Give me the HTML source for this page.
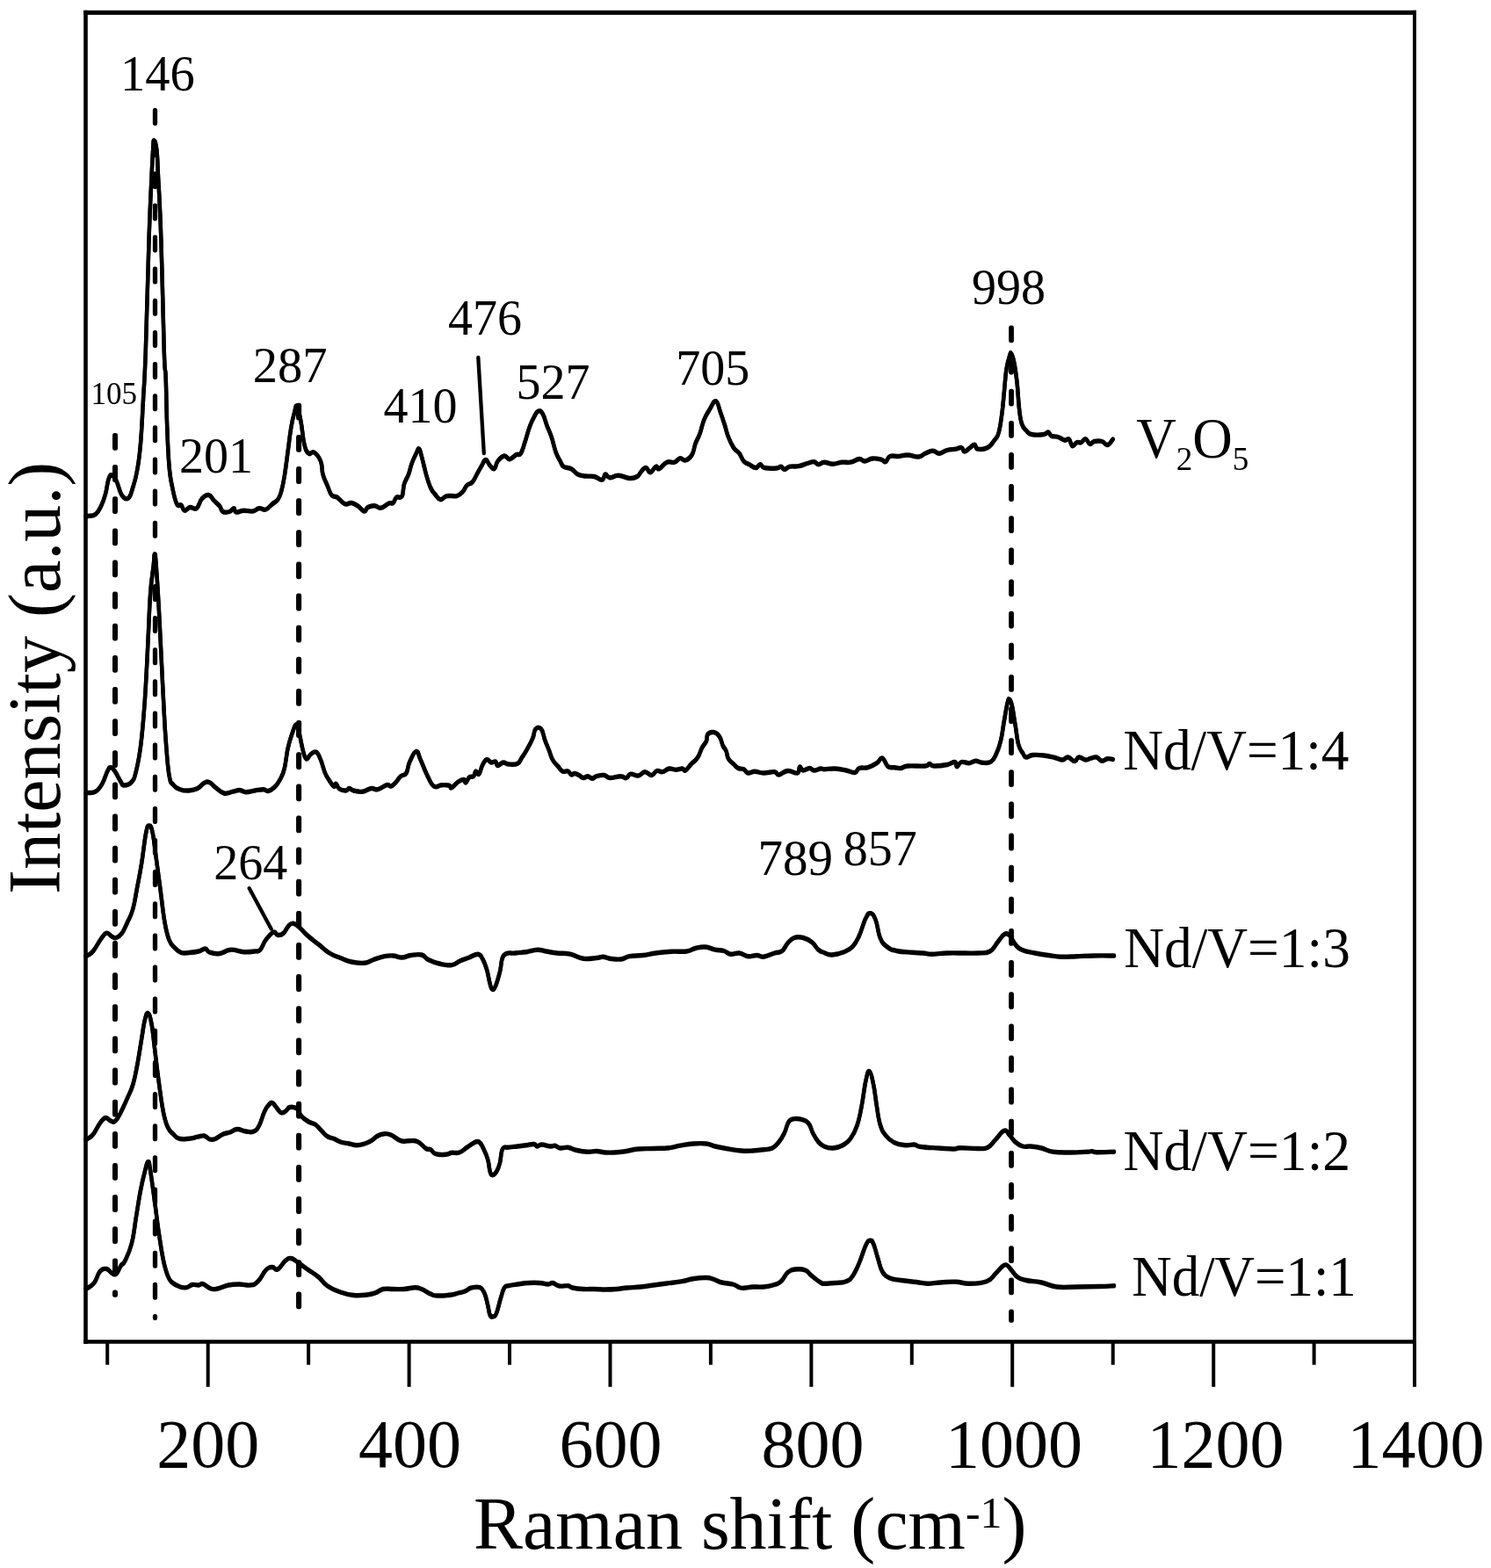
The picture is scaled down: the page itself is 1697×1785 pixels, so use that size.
<!DOCTYPE html>
<html lang="en"><head><meta charset="utf-8"><title>Raman spectra</title>
<style>html,body{margin:0;padding:0;background:#fff}svg{display:block}</style></head>
<body>
<svg width="1697" height="1785" viewBox="0 0 1697 1785">
<rect width="1697" height="1785" fill="#fff"/>
<g transform="translate(0,-0.5)" fill="none" stroke="#000" stroke-width="4.4" stroke-linejoin="round" stroke-linecap="round">
<path d="M97.5,588.0C98.0,587.9 97.5,588.0 100.0,587.5C102.5,587.0 105.4,588.0 108.7,585.5C112.0,583.0 112.5,581.3 115.0,576.2C117.5,571.1 118.1,569.4 120.0,562.5C121.9,555.6 122.0,549.7 123.7,545.0C125.4,540.3 125.6,540.5 127.5,541.0C129.4,541.5 130.0,542.5 132.5,547.5C135.0,552.5 135.7,559.4 138.7,563.7C141.7,568.0 143.4,568.9 146.2,567.0C148.9,565.1 149.0,562.0 151.2,555.0C153.4,548.0 154.3,546.0 156.2,535.0C158.1,524.0 158.5,522.6 160.0,505.0C161.5,487.4 161.7,478.1 163.0,455.0C164.3,431.9 164.3,440.5 165.8,400.0C167.3,359.5 168.1,315.4 169.6,271.0C171.1,226.6 171.7,220.2 172.7,198.0C173.7,175.8 173.6,178.4 174.2,170.0C174.8,161.6 174.3,159.6 175.2,159.6C176.1,159.6 177.3,161.6 178.3,170.0C179.3,178.4 178.8,175.8 179.9,198.0C181.0,220.2 181.8,226.6 183.3,271.0C184.8,315.4 185.6,365.0 186.8,400.0C188.0,435.0 188.0,412.4 188.7,430.0C189.4,447.6 189.2,458.0 190.0,480.0C190.8,502.0 191.1,513.5 192.5,530.0C193.9,546.5 194.3,545.4 196.2,555.0C198.1,564.6 199.0,569.3 201.2,573.7C203.4,578.1 204.3,573.4 206.2,575.0C208.1,576.6 207.8,580.7 210.0,581.2C212.2,581.8 213.2,578.0 216.2,577.5C219.2,577.0 220.7,580.9 223.7,578.7C226.7,576.5 227.0,570.8 230.0,567.5C233.0,564.2 234.5,563.0 237.5,563.5C240.5,564.0 240.9,567.2 243.7,570.0C246.4,572.8 247.8,573.5 250.0,576.2C252.2,579.0 251.2,581.1 253.7,582.5C256.2,583.9 258.4,583.3 261.2,582.5C263.9,581.7 264.6,578.6 266.2,578.7C267.8,578.8 266.2,582.5 268.7,583.0C271.2,583.5 273.4,581.4 277.5,581.2C281.6,581.0 283.6,582.5 287.5,582.0C291.4,581.5 291.7,579.1 295.0,578.7C298.3,578.3 299.2,581.1 302.5,580.0C305.8,578.9 307.0,576.2 310.0,573.7C313.0,571.2 314.0,571.7 316.2,568.7C318.4,565.7 318.4,565.8 320.0,560.0C321.6,554.2 322.1,552.4 323.7,542.5C325.3,532.6 325.9,527.1 327.5,515.0C329.1,502.9 329.6,497.4 331.2,487.5C332.8,477.6 333.5,475.5 335.0,470.0C336.5,464.5 336.4,460.3 338.0,462.5C339.6,464.7 340.7,470.6 342.5,480.0C344.3,489.4 344.3,497.0 346.2,505.0C348.1,513.0 348.7,514.0 351.2,516.2C353.7,518.4 354.5,513.1 357.5,515.0C360.5,516.9 362.8,519.5 365.0,525.0C367.2,530.5 365.9,534.0 367.5,540.0C369.1,546.0 370.3,547.3 372.5,552.5C374.7,557.7 375.0,560.7 377.5,563.7C380.0,566.7 380.4,564.0 383.7,566.2C387.0,568.4 388.9,572.3 392.5,573.7C396.1,575.1 396.7,572.0 400.0,572.5C403.3,573.0 404.3,574.1 407.5,576.2C410.7,578.3 412.0,581.7 414.5,582.0C417.0,582.3 416.1,578.9 418.7,577.5C421.3,576.1 422.9,575.5 426.2,575.7C429.5,575.9 430.1,578.8 433.7,578.2C437.3,577.6 439.5,574.3 442.5,573.0C445.5,571.7 445.6,574.0 447.5,572.5C449.4,571.0 449.0,567.9 451.2,566.2C453.4,564.6 455.6,568.3 457.5,565.0C459.4,561.7 458.4,556.7 460.0,551.2C461.6,545.7 463.1,545.2 465.0,540.0C466.9,534.8 466.8,532.7 468.7,527.5C470.6,522.3 471.9,519.8 473.7,516.2C475.5,512.6 475.6,510.2 477.0,511.0C478.4,511.8 478.2,513.6 480.0,520.0C481.8,526.4 482.8,532.3 485.0,540.0C487.2,547.7 487.8,550.0 490.0,555.0C492.2,560.0 492.5,559.5 495.0,562.5C497.5,565.5 498.4,568.2 501.2,568.7C503.9,569.2 504.7,565.9 507.5,565.0C510.3,564.1 511.2,564.6 514.0,564.5C516.8,564.4 517.5,565.5 520.2,564.5C523.0,563.5 524.0,562.6 526.5,560.0C529.0,557.4 529.0,555.0 531.5,552.5C534.0,550.0 535.2,551.5 537.7,548.7C540.2,546.0 540.5,543.9 542.7,540.0C544.9,536.1 545.5,534.8 547.7,531.2C549.9,527.6 550.5,523.8 552.7,523.5C554.9,523.2 555.5,527.8 557.7,530.0C559.9,532.2 560.8,534.8 562.7,533.7C564.6,532.6 564.0,528.2 566.5,525.0C569.0,521.8 571.0,519.5 574.0,519.0C577.0,518.5 577.2,523.0 580.2,522.7C583.2,522.4 585.0,518.9 587.7,517.5C590.5,516.1 590.5,519.5 592.7,516.2C594.9,512.9 595.5,509.1 597.7,502.5C599.9,495.9 600.5,492.2 602.7,486.2C604.9,480.1 605.5,479.0 607.7,475.0C609.9,471.0 610.5,468.8 612.7,468.0C614.9,467.2 615.5,467.5 617.7,471.2C619.9,474.9 620.5,479.2 622.7,485.0C624.9,490.8 625.5,490.9 627.7,497.5C629.9,504.1 630.5,508.9 632.7,515.0C634.9,521.0 635.8,521.4 637.7,525.0C639.6,528.6 638.8,529.3 641.5,531.2C644.2,533.1 646.6,531.8 650.2,533.7C653.8,535.6 654.1,538.2 657.7,540.0C661.3,541.8 662.4,541.5 666.5,542.0C670.6,542.5 672.4,541.6 676.5,542.5C680.6,543.4 682.5,546.8 685.2,546.2C688.0,545.7 687.1,540.5 689.0,540.0C690.9,539.5 690.7,543.4 694.0,543.7C697.3,544.0 699.0,541.0 704.0,541.2C709.0,541.4 711.8,544.2 716.5,544.5C721.2,544.8 722.2,544.3 725.2,542.5C728.2,540.7 728.0,538.4 730.2,536.2C732.4,534.0 733.0,532.2 735.2,532.5C737.4,532.8 737.7,538.0 740.2,537.7C742.7,537.4 744.3,532.1 746.5,531.2C748.7,530.3 747.5,534.8 750.2,533.7C753.0,532.6 755.1,527.9 759.0,526.2C762.9,524.6 764.4,527.2 767.7,526.2C771.0,525.2 771.2,522.2 774.0,521.7C776.8,521.2 777.2,524.9 780.2,524.0C783.2,523.1 785.2,521.7 787.7,517.5C790.2,513.3 789.6,510.2 791.5,505.0C793.4,499.8 794.3,499.8 796.5,493.7C798.7,487.6 799.0,483.6 801.5,477.5C804.0,471.4 804.8,470.8 807.7,466.2C810.6,461.6 812.0,455.9 814.7,456.7C817.5,457.5 817.9,463.8 820.2,470.0C822.5,476.2 823.3,478.9 825.2,485.0C827.1,491.1 826.8,492.0 829.0,497.5C831.2,503.0 832.5,505.9 835.2,510.0C838.0,514.1 839.0,512.9 841.5,516.2C844.0,519.5 844.0,522.2 846.5,525.0C849.0,527.8 849.7,527.1 852.7,528.7C855.7,530.4 857.5,532.5 860.2,532.5C863.0,532.5 863.0,528.7 865.2,528.7C867.4,528.7 866.1,531.6 870.2,532.5C874.3,533.4 879.9,533.3 884.0,533.0C888.1,532.7 887.1,530.9 889.0,531.2C890.9,531.5 890.5,534.5 892.7,534.5C894.9,534.5 895.4,532.0 899.0,531.2C902.6,530.4 904.6,531.5 909.0,530.7C913.4,529.9 915.1,528.6 919.0,527.5C922.9,526.4 923.8,525.4 926.5,525.7C929.2,526.0 929.0,528.6 931.5,528.7C934.0,528.8 934.4,526.3 938.0,526.2C941.6,526.1 943.6,528.2 948.0,528.2C952.4,528.2 953.6,526.6 958.0,526.2C962.4,525.8 963.6,527.0 968.0,526.2C972.4,525.4 974.4,522.8 978.0,522.5C981.6,522.2 980.9,525.1 984.2,525.0C987.5,524.9 988.9,522.4 993.0,522.0C997.1,521.6 999.7,522.4 1003.0,523.2C1006.3,524.0 1005.8,526.5 1008.0,525.7C1010.2,524.9 1009.7,520.9 1013.0,519.5C1016.3,518.1 1018.6,519.8 1023.0,519.5C1027.4,519.2 1028.0,517.9 1033.0,518.0C1038.0,518.1 1041.1,520.4 1045.5,520.0C1049.9,519.6 1049.4,517.7 1053.0,516.2C1056.6,514.7 1058.1,513.2 1061.7,513.2C1065.3,513.2 1065.6,516.4 1069.2,516.2C1072.8,516.0 1073.9,513.6 1078.0,512.5C1082.1,511.4 1084.4,511.9 1088.0,511.2C1091.6,510.5 1092.0,508.9 1094.2,509.5C1096.4,510.1 1095.8,514.0 1098.0,514.0C1100.2,514.0 1101.7,511.2 1104.2,509.5C1106.7,507.8 1107.3,505.8 1109.2,506.2C1111.1,506.6 1109.7,510.5 1113.0,511.2C1116.3,511.9 1120.1,511.7 1124.2,509.5C1128.3,507.3 1129.0,504.9 1131.7,501.2C1134.5,497.5 1134.8,499.4 1136.7,492.5C1138.6,485.6 1139.1,480.4 1140.5,470.0C1141.9,459.6 1141.9,456.0 1143.0,445.0C1144.1,434.0 1144.1,428.8 1145.5,420.0C1146.9,411.2 1148.0,408.9 1149.2,405.0C1150.4,401.1 1149.9,400.9 1151.0,402.5C1152.1,404.1 1152.8,405.4 1154.2,412.5C1155.6,419.6 1156.2,423.4 1157.5,435.0C1158.8,446.6 1158.8,454.6 1160.0,465.0C1161.2,475.4 1161.2,477.0 1163.0,482.5C1164.8,488.0 1165.5,487.4 1168.0,490.0C1170.5,492.6 1169.8,493.5 1174.2,494.5C1178.6,495.5 1183.9,495.1 1188.0,494.5C1192.1,493.9 1191.1,491.6 1193.0,492.0C1194.9,492.4 1194.2,495.0 1196.7,496.2C1199.2,497.4 1200.9,496.4 1204.2,497.5C1207.5,498.6 1209.0,500.6 1211.7,501.2C1214.5,501.8 1214.8,498.6 1216.7,500.0C1218.6,501.4 1218.6,506.9 1220.5,507.7C1222.4,508.5 1223.3,504.6 1225.5,503.7C1227.7,502.8 1228.3,504.6 1230.5,503.7C1232.7,502.8 1233.3,499.3 1235.5,499.7C1237.7,500.1 1238.3,504.9 1240.5,505.5C1242.7,506.1 1242.5,503.2 1245.5,502.5C1248.5,501.8 1250.9,501.6 1254.2,502.5C1257.5,503.4 1257.8,507.1 1260.5,506.5C1263.2,505.9 1265.3,501.4 1266.7,500.0"/>
<path d="M97.5,902.5C98.0,902.5 97.5,902.8 100.0,902.5C102.5,902.2 105.1,903.4 108.7,901.2C112.3,899.0 113.2,897.7 116.2,892.5C119.2,887.3 120.3,881.6 122.5,877.5C124.7,873.4 124.3,873.4 126.2,873.7C128.1,874.0 128.7,875.1 131.2,878.7C133.7,882.3 135.3,886.6 137.5,890.0C139.7,893.4 138.4,894.0 141.2,894.0C143.9,894.0 147.0,893.6 150.0,890.0C153.0,886.4 152.8,886.3 155.0,877.5C157.2,868.7 158.1,864.3 160.0,850.0C161.9,835.7 162.3,829.0 163.7,812.5C165.1,796.0 165.1,794.2 166.2,775.0C167.3,755.8 167.6,747.0 168.7,725.0C169.8,703.0 169.9,692.6 171.2,675.0C172.5,657.4 173.5,654.6 174.6,645.0C175.7,635.4 175.4,629.0 176.3,631.2C177.2,633.4 177.4,639.9 178.5,655.0C179.6,670.1 180.1,679.1 181.2,700.0C182.3,720.9 182.6,728.0 183.7,750.0C184.8,772.0 185.1,779.6 186.2,800.0C187.3,820.4 187.3,824.4 188.7,842.5C190.1,860.6 190.6,871.2 192.5,882.5C194.4,893.8 194.8,890.1 197.5,893.7C200.2,897.3 201.2,897.3 205.0,898.7C208.8,900.1 210.6,900.3 215.0,900.0C219.4,899.7 221.2,899.4 225.0,897.5C228.8,895.6 229.5,892.7 232.5,891.2C235.5,889.7 235.9,889.6 238.7,890.7C241.4,891.8 241.4,893.5 245.0,896.2C248.6,898.9 250.6,901.9 255.0,903.0C259.4,904.1 261.1,902.0 265.0,901.2C268.9,900.4 269.2,899.4 272.5,899.5C275.8,899.6 276.1,901.6 280.0,901.7C283.9,901.8 285.6,900.7 290.0,900.0C294.4,899.3 296.7,898.6 300.0,898.7C303.3,898.8 302.2,901.0 305.0,900.5C307.8,900.0 309.5,899.1 312.5,896.2C315.5,893.3 316.2,892.2 318.7,887.5C321.2,882.8 321.8,882.7 323.7,875.0C325.6,867.3 325.6,861.3 327.5,852.5C329.4,843.7 330.3,841.1 332.5,835.0C334.7,828.9 335.6,824.2 337.5,824.7C339.4,825.2 339.6,830.8 341.2,837.5C342.8,844.2 343.4,849.2 345.0,855.0C346.6,860.8 346.8,863.2 348.7,864.0C350.6,864.8 351.2,860.4 353.7,858.7C356.2,857.0 357.5,854.8 360.0,856.2C362.5,857.6 362.8,859.8 365.0,865.0C367.2,870.2 367.8,874.8 370.0,880.0C372.2,885.2 372.8,885.4 375.0,888.7C377.2,892.0 378.4,894.4 380.0,895.2C381.6,896.0 381.1,891.6 382.5,892.2C383.9,892.8 383.7,896.3 386.2,898.0C388.7,899.7 391.2,900.1 393.7,900.0C396.2,899.9 395.6,897.5 397.5,897.5C399.4,897.5 399.2,899.2 402.5,900.0C405.8,900.8 408.1,901.8 412.5,901.2C416.9,900.7 418.6,898.0 422.5,897.5C426.4,897.0 426.1,899.5 430.0,898.7C433.9,897.9 436.7,894.5 440.0,893.7C443.3,892.9 442.8,895.5 445.0,895.0C447.2,894.5 447.5,893.7 450.0,891.2C452.5,888.7 453.4,886.2 456.2,883.7C458.9,881.2 460.3,883.6 462.5,880.0C464.7,876.4 463.7,872.9 466.2,867.5C468.7,862.1 470.9,856.0 473.7,855.5C476.4,855.0 475.9,859.1 478.7,865.0C481.4,870.9 482.9,875.9 486.2,882.5C489.5,889.1 490.1,892.5 493.7,895.0C497.3,897.5 498.6,893.9 502.5,893.7C506.4,893.5 508.7,893.5 511.2,894.2C513.7,894.9 511.7,897.7 514.0,896.8C516.3,895.9 518.5,892.0 521.5,890.0C524.5,888.0 525.8,887.3 527.7,887.5C529.6,887.7 528.8,891.5 530.2,891.0C531.6,890.5 532.1,886.6 534.0,885.0C535.9,883.4 537.4,885.2 539.0,883.7C540.6,882.2 540.1,878.5 541.5,878.0C542.9,877.5 543.6,882.7 545.2,881.2C546.9,879.7 547.1,874.8 549.0,871.2C550.9,867.6 551.8,865.4 554.0,864.7C556.2,864.0 556.8,867.5 559.0,868.0C561.2,868.5 562.4,866.2 564.0,867.0C565.6,867.8 564.6,871.3 566.5,871.5C568.4,871.7 570.0,868.3 572.7,868.0C575.5,867.7 575.4,869.7 579.0,870.0C582.6,870.3 585.7,870.9 589.0,869.2C592.3,867.6 591.5,866.2 594.0,862.5C596.5,858.8 597.5,857.5 600.2,852.5C603.0,847.5 604.5,845.0 606.5,840.0C608.5,835.0 607.4,832.2 609.5,830.0C611.6,827.8 613.6,827.2 616.0,830.0C618.4,832.8 618.2,837.0 620.2,842.5C622.2,848.0 623.3,850.0 625.2,855.0C627.1,860.0 626.8,861.1 629.0,865.0C631.2,868.9 632.7,869.6 635.2,872.5C637.7,875.4 637.7,876.8 640.2,878.0C642.7,879.2 644.3,877.1 646.5,878.0C648.7,878.9 648.6,881.5 650.2,882.0C651.9,882.5 652.1,880.4 654.0,880.5C655.9,880.6 656.8,881.4 659.0,882.5C661.2,883.6 661.8,885.2 664.0,885.5C666.2,885.8 666.8,883.5 669.0,883.7C671.2,883.9 671.8,886.2 674.0,886.2C676.2,886.2 676.0,884.5 679.0,883.7C682.0,882.9 684.4,882.1 687.7,882.5C691.0,882.9 689.9,885.2 694.0,885.5C698.1,885.8 702.4,883.7 706.5,883.7C710.6,883.7 710.2,886.2 712.7,885.7C715.2,885.2 714.7,881.8 717.7,881.2C720.7,880.6 722.9,883.5 726.5,883.0C730.1,882.5 730.7,878.8 734.0,878.7C737.3,878.6 738.5,882.8 741.5,882.5C744.5,882.2 745.0,878.3 747.7,877.5C750.5,876.7 751.0,879.2 754.0,878.7C757.0,878.2 758.2,875.5 761.5,875.0C764.8,874.5 765.7,876.2 769.0,876.2C772.3,876.2 774.0,874.8 776.5,875.0C779.0,875.2 778.0,878.1 780.2,877.0C782.4,875.9 783.5,873.2 786.5,870.0C789.5,866.8 791.2,866.6 794.0,862.5C796.8,858.4 796.8,855.3 799.0,851.2C801.2,847.1 802.6,847.0 804.0,843.7C805.2,840.4 804.0,838.4 805.2,836.2C807.1,834.0 809.7,833.2 812.7,833.7C815.7,834.2 816.8,835.4 819.0,838.7C821.2,842.0 821.1,845.1 822.7,848.7C824.4,852.3 825.1,851.7 826.5,855.0C827.9,858.3 827.1,860.4 829.0,863.7C830.9,867.0 832.7,867.6 835.2,870.0C837.7,872.4 837.7,873.2 840.2,874.5C842.7,875.8 844.0,874.5 846.5,875.7C849.0,876.9 848.8,879.5 851.5,880.0C854.2,880.5 855.1,878.2 859.0,878.2C862.9,878.2 864.0,879.9 869.0,880.0C874.0,880.1 877.6,878.3 881.5,878.7C885.4,879.1 883.2,882.3 886.5,882.0C889.8,881.7 891.8,877.9 896.5,877.5C901.2,877.1 904.7,881.0 907.7,880.0C910.2,879.0 908.8,873.7 910.2,873.0C911.6,872.3 911.5,876.7 914.0,877.0C916.5,877.3 918.8,874.5 921.5,874.5C924.2,874.5 923.8,876.9 926.5,877.0C929.2,877.1 931.5,875.3 934.0,875.0C936.5,874.7 934.4,875.7 938.0,875.7C941.6,875.7 945.0,874.7 950.5,875.0C956.0,875.3 958.0,876.0 963.0,877.0C968.0,878.0 969.7,880.0 973.0,879.5C976.3,879.0 974.7,875.8 978.0,874.5C981.3,873.2 983.6,875.0 988.0,873.7C992.4,872.4 994.4,871.1 998.0,868.7C1001.6,866.3 1001.5,862.2 1004.2,863.0C1007.0,863.8 1007.5,870.1 1010.5,872.5C1013.5,874.9 1014.7,873.3 1018.0,873.7C1021.3,874.1 1022.2,874.9 1025.5,874.5C1028.8,874.1 1027.0,872.5 1033.0,872.0C1039.0,871.5 1047.5,872.5 1053.0,872.0C1058.0,871.5 1055.8,869.5 1058.0,869.5C1060.2,869.5 1058.6,871.8 1063.0,872.0C1067.4,872.2 1072.8,871.5 1078.0,870.5C1083.2,869.5 1084.2,867.0 1086.7,867.5C1089.2,868.0 1087.5,872.7 1089.2,872.7C1090.9,872.7 1091.2,868.4 1094.2,867.5C1097.2,866.6 1099.4,869.0 1103.0,868.7C1106.6,868.4 1107.2,866.3 1110.5,866.2C1113.8,866.1 1114.2,868.0 1118.0,868.2C1121.8,868.4 1124.4,869.4 1128.0,867.0C1131.6,864.6 1131.7,862.9 1134.2,857.5C1136.7,852.1 1137.3,850.8 1139.2,842.5C1141.1,834.2 1141.3,829.4 1143.0,820.0C1144.7,810.6 1145.4,805.2 1146.7,800.0C1148.0,794.8 1147.6,795.7 1148.7,796.2C1149.8,796.8 1150.2,796.2 1151.7,802.5C1153.2,808.8 1153.8,815.1 1155.5,825.0C1157.2,834.9 1157.3,840.4 1159.2,847.5C1161.1,854.6 1162.3,854.3 1164.2,857.5C1166.1,860.7 1165.5,861.6 1168.0,862.0C1170.5,862.4 1171.1,859.9 1175.5,859.5C1179.9,859.1 1182.5,859.3 1188.0,860.0C1193.5,860.7 1195.8,861.4 1200.5,862.5C1205.2,863.6 1205.9,865.1 1209.2,865.0C1212.5,864.9 1212.5,861.7 1215.5,862.0C1218.5,862.3 1220.2,866.5 1223.0,866.5C1225.8,866.5 1225.2,862.3 1228.0,862.0C1230.8,861.7 1232.5,864.7 1235.5,865.0C1238.5,865.3 1239.0,863.9 1241.7,863.2C1244.5,862.5 1245.2,861.3 1248.0,862.0C1250.8,862.7 1251.5,865.8 1254.2,866.2C1257.0,866.6 1257.8,864.1 1260.5,863.7C1263.2,863.3 1265.3,864.3 1266.7,864.5"/>
<path d="M97.5,1088.5C98.0,1088.3 98.1,1088.8 100.0,1087.5C101.9,1086.2 102.9,1086.6 106.2,1082.5C109.5,1078.4 111.7,1073.2 115.0,1068.7C118.3,1064.2 118.5,1062.8 121.2,1062.2C124.0,1061.7 125.0,1065.0 127.5,1066.2C130.0,1067.4 130.0,1068.3 132.5,1067.5C135.0,1066.7 135.9,1066.3 138.7,1062.5C141.4,1058.7 142.2,1056.0 145.0,1050.0C147.8,1044.0 148.7,1043.8 151.2,1035.0C153.7,1026.2 154.0,1021.5 156.2,1010.0C158.4,998.5 159.0,996.1 161.2,982.5C163.4,968.9 164.3,957.4 166.2,948.0C168.1,938.6 168.3,940.0 170.0,940.0C171.7,940.0 172.0,940.3 173.7,948.0C175.3,955.7 175.6,960.8 177.5,975.0C179.4,989.2 180.3,996.0 182.5,1012.5C184.7,1029.0 185.3,1037.3 187.5,1050.0C189.7,1062.7 190.0,1063.7 192.5,1070.0C195.0,1076.3 195.7,1075.5 198.7,1078.7C201.7,1081.9 202.6,1083.2 206.2,1084.5C209.8,1085.8 210.6,1084.8 215.0,1084.5C219.4,1084.2 222.1,1084.0 226.2,1083.0C230.3,1082.0 230.9,1079.7 233.7,1080.0C236.4,1080.3 235.1,1083.0 238.7,1084.2C242.3,1085.4 244.8,1086.2 250.0,1085.5C255.2,1084.8 256.4,1081.6 262.5,1081.2C268.6,1080.8 271.4,1083.3 277.5,1083.7C283.6,1084.1 285.9,1083.5 290.0,1083.0C294.1,1082.5 293.4,1084.1 296.2,1081.2C298.9,1078.3 299.2,1074.4 302.5,1070.0C305.8,1065.6 308.2,1062.4 311.2,1061.2C314.2,1060.0 313.7,1064.2 316.2,1064.5C318.7,1064.8 319.8,1064.9 322.5,1062.5C325.2,1060.1 326.2,1056.2 328.7,1053.7C331.2,1051.2 331.2,1050.9 333.7,1051.2C336.2,1051.5 336.4,1052.0 340.0,1055.0C343.6,1058.0 345.1,1060.6 350.0,1065.0C354.9,1069.4 357.0,1070.6 362.5,1075.0C368.0,1079.4 369.5,1081.6 375.0,1085.0C380.5,1088.4 382.0,1088.3 387.5,1090.5C393.0,1092.7 393.9,1093.7 400.0,1095.0C406.1,1096.3 409.5,1096.8 415.0,1096.2C420.5,1095.7 420.1,1094.2 425.0,1092.5C429.9,1090.8 432.6,1089.7 437.5,1088.7C442.4,1087.7 443.1,1087.7 447.5,1088.0C451.9,1088.3 453.1,1090.1 457.5,1090.0C461.9,1089.9 462.6,1088.2 467.5,1087.5C472.4,1086.8 475.6,1085.9 480.0,1087.0C484.4,1088.1 483.1,1090.3 487.5,1092.5C491.9,1094.7 494.2,1095.7 500.0,1097.0C505.8,1098.3 508.7,1099.3 514.0,1098.6C519.3,1097.9 519.6,1095.6 524.0,1093.7C528.4,1091.8 529.6,1091.7 534.0,1090.0C538.4,1088.3 540.7,1085.9 544.0,1086.2C547.3,1086.5 546.8,1087.4 549.0,1091.2C551.2,1095.0 552.1,1097.4 554.0,1103.7C555.9,1110.0 556.3,1115.0 557.7,1120.0C559.1,1125.0 558.8,1125.7 560.2,1126.2C561.6,1126.8 562.1,1126.9 564.0,1122.5C565.9,1118.1 566.9,1113.9 569.0,1106.2C571.1,1098.5 569.6,1092.2 573.5,1087.5C577.4,1082.8 580.9,1085.8 586.5,1085.0C592.1,1084.2 593.5,1084.5 599.0,1083.7C604.5,1082.9 606.5,1081.4 611.5,1081.2C616.5,1081.0 616.5,1082.2 621.5,1083.0C626.5,1083.8 628.0,1084.3 634.0,1085.0C640.0,1085.7 642.4,1084.8 649.0,1086.2C655.6,1087.6 657.4,1090.3 664.0,1091.2C670.6,1092.1 674.0,1090.9 679.0,1090.5C684.0,1090.1 683.2,1089.0 686.5,1089.2C689.8,1089.4 689.6,1090.6 694.0,1091.2C698.4,1091.8 701.5,1092.5 706.5,1092.0C711.5,1091.5 711.0,1089.7 716.5,1088.7C722.0,1087.7 724.9,1088.3 731.5,1087.5C738.1,1086.7 739.4,1085.9 746.5,1085.0C753.6,1084.1 756.3,1083.6 764.0,1083.2C771.7,1082.8 775.5,1083.8 781.5,1083.0C787.5,1082.2 786.8,1080.6 791.5,1079.5C796.2,1078.4 797.8,1077.6 802.7,1078.0C807.7,1078.4 809.3,1080.2 814.0,1081.2C818.7,1082.2 820.1,1081.4 824.0,1082.5C827.9,1083.6 827.6,1085.7 831.5,1086.2C835.4,1086.8 837.1,1084.5 841.5,1085.0C845.9,1085.5 847.1,1088.2 851.5,1088.7C855.9,1089.2 857.6,1087.4 861.5,1087.5C865.4,1087.6 864.6,1089.8 869.0,1089.2C873.4,1088.7 876.8,1086.5 881.5,1085.0C886.2,1083.5 886.9,1085.0 890.2,1082.5C893.5,1080.0 893.5,1077.0 896.5,1073.7C899.5,1070.4 900.1,1068.9 904.0,1067.5C907.9,1066.1 909.6,1066.4 914.0,1067.5C918.4,1068.6 920.1,1069.5 924.0,1072.5C927.9,1075.5 928.4,1078.6 931.5,1081.2C934.6,1083.8 934.7,1083.2 938.0,1084.5C941.3,1085.8 941.8,1087.2 946.7,1087.0C951.7,1086.8 955.3,1085.8 960.5,1083.7C965.7,1081.6 966.6,1081.6 970.5,1077.5C974.4,1073.4 974.7,1072.2 978.0,1065.0C981.3,1057.8 982.6,1050.6 985.5,1045.0C988.4,1039.4 988.5,1039.2 991.0,1039.7C993.5,1040.2 994.3,1041.4 996.7,1047.5C999.1,1053.6 999.0,1060.9 1001.7,1067.5C1004.5,1074.1 1005.1,1074.2 1009.2,1077.5C1013.3,1080.8 1014.2,1081.0 1020.5,1082.5C1026.8,1084.0 1031.4,1083.7 1038.0,1084.2C1044.6,1084.8 1045.5,1084.6 1050.5,1085.0C1055.5,1085.4 1054.5,1086.2 1060.5,1086.2C1066.5,1086.2 1069.8,1085.3 1078.0,1085.0C1086.2,1084.7 1090.3,1085.0 1098.0,1085.0C1105.7,1085.0 1106.7,1085.4 1113.0,1085.0C1119.3,1084.6 1121.8,1085.8 1126.7,1083.0C1131.7,1080.2 1131.9,1076.7 1135.5,1072.5C1139.1,1068.3 1140.0,1065.4 1143.0,1063.7C1146.0,1062.0 1146.5,1062.5 1149.2,1065.0C1152.0,1067.5 1152.5,1071.4 1155.5,1075.0C1158.5,1078.6 1158.0,1079.0 1163.0,1081.2C1168.0,1083.4 1171.4,1083.6 1178.0,1085.0C1184.6,1086.4 1186.4,1086.6 1193.0,1087.5C1199.6,1088.4 1200.8,1088.9 1208.0,1089.2C1215.2,1089.5 1217.2,1089.0 1225.5,1088.7C1233.8,1088.4 1236.2,1088.2 1245.5,1088.0C1254.8,1087.8 1263.0,1088.0 1268.0,1088.0"/>
<path d="M97.5,1297.0C98.0,1296.8 98.1,1297.5 100.0,1296.2C101.9,1294.9 103.2,1295.0 106.2,1291.2C109.2,1287.4 110.7,1282.8 113.7,1278.7C116.7,1274.6 117.2,1273.0 120.0,1272.5C122.8,1272.0 123.7,1275.4 126.2,1276.2C128.7,1277.0 128.7,1278.4 131.2,1276.2C133.7,1274.0 134.5,1272.0 137.5,1266.2C140.5,1260.4 142.0,1256.9 145.0,1250.0C148.0,1243.1 148.7,1243.2 151.2,1235.0C153.7,1226.8 154.0,1224.0 156.2,1212.5C158.4,1201.0 159.3,1193.9 161.2,1182.5C163.1,1171.1 163.3,1166.9 165.0,1160.5C166.7,1154.1 167.0,1152.5 168.7,1153.6C170.3,1154.7 170.8,1156.4 172.5,1165.5C174.2,1174.6 174.3,1179.7 176.2,1195.0C178.1,1210.3 179.0,1219.0 181.2,1235.0C183.4,1251.0 184.0,1256.8 186.2,1267.5C188.4,1278.2 188.7,1278.5 191.2,1283.7C193.7,1288.9 194.8,1288.5 197.5,1291.2C200.2,1294.0 199.8,1295.1 203.7,1296.2C207.5,1297.3 210.3,1296.6 215.0,1296.2C219.7,1295.8 221.2,1294.9 225.0,1294.2C228.8,1293.5 229.5,1292.4 232.5,1293.0C235.5,1293.6 235.9,1296.2 238.7,1297.0C241.4,1297.8 241.7,1297.8 245.0,1296.5C248.3,1295.2 249.8,1292.9 253.7,1291.2C257.6,1289.5 258.9,1290.0 262.5,1288.7C266.1,1287.4 266.1,1285.7 270.0,1285.5C273.9,1285.3 275.9,1287.5 280.0,1288.0C284.1,1288.5 285.4,1289.5 288.7,1288.0C292.0,1286.5 292.2,1286.3 295.0,1281.2C297.8,1276.1 298.7,1270.2 301.2,1265.0C303.7,1259.8 304.3,1259.6 306.2,1257.5C308.1,1255.4 308.1,1254.7 310.0,1255.5C311.9,1256.3 312.8,1258.7 315.0,1261.2C317.2,1263.7 317.8,1265.9 320.0,1266.7C322.2,1267.5 322.8,1266.4 325.0,1265.0C327.2,1263.6 327.0,1261.0 330.0,1260.5C333.0,1260.0 335.9,1260.4 338.7,1262.5C341.4,1264.6 339.8,1266.8 342.5,1270.0C345.2,1273.2 347.6,1274.8 351.2,1277.0C354.8,1279.2 355.7,1278.0 358.7,1280.0C361.7,1282.0 362.0,1283.2 365.0,1286.2C368.0,1289.2 369.2,1291.5 372.5,1293.7C375.8,1295.9 376.7,1294.8 380.0,1296.2C383.3,1297.6 383.6,1298.7 387.5,1300.0C391.4,1301.3 393.4,1301.2 397.5,1302.0C401.6,1302.8 402.3,1303.7 406.2,1303.7C410.1,1303.7 411.4,1303.1 415.0,1302.0C418.6,1300.9 419.2,1300.7 422.5,1298.7C425.8,1296.7 426.7,1294.8 430.0,1293.0C433.3,1291.2 434.2,1290.9 437.5,1290.7C440.8,1290.5 440.9,1290.2 445.0,1292.0C449.1,1293.8 451.8,1297.2 456.2,1298.7C460.6,1300.2 460.9,1298.5 465.0,1298.7C469.1,1298.9 470.6,1297.6 475.0,1299.5C479.4,1301.4 481.7,1305.5 485.0,1307.5C488.3,1309.5 487.5,1307.3 490.0,1308.7C492.5,1310.1 492.3,1312.5 496.2,1313.7C500.1,1314.9 503.6,1314.5 507.5,1314.2C511.4,1313.9 510.7,1312.8 514.0,1312.3C517.3,1311.8 518.9,1313.3 522.7,1312.0C526.6,1310.7 527.9,1308.6 531.5,1306.2C535.1,1303.8 536.0,1302.6 539.0,1301.2C542.0,1299.8 542.7,1298.6 545.2,1300.0C547.7,1301.4 548.0,1303.1 550.2,1307.5C552.4,1311.9 553.6,1314.2 555.2,1320.0C556.9,1325.8 556.5,1329.8 557.7,1333.7C558.9,1337.6 559.1,1337.7 560.7,1337.7C562.4,1337.7 563.4,1336.8 565.2,1333.7C567.0,1330.6 567.5,1329.4 569.0,1323.7C570.5,1318.0 569.8,1311.8 572.0,1308.0C574.2,1304.2 575.3,1306.9 579.0,1306.2C582.7,1305.5 584.6,1305.5 589.0,1305.0C593.4,1304.5 594.9,1304.2 599.0,1303.7C603.1,1303.2 605.0,1302.2 607.7,1302.5C610.5,1302.8 609.6,1304.9 611.5,1305.0C613.4,1305.1 613.2,1303.0 616.5,1303.0C619.8,1303.0 623.2,1304.7 626.5,1305.0C629.8,1305.3 629.0,1303.8 631.5,1304.2C634.0,1304.6 634.4,1306.6 637.7,1307.0C641.0,1307.4 642.4,1305.7 646.5,1306.2C650.6,1306.8 651.5,1308.4 656.5,1309.5C661.5,1310.6 664.0,1311.0 669.0,1311.2C674.0,1311.4 674.6,1310.3 679.0,1310.5C683.4,1310.7 684.6,1311.7 689.0,1312.0C693.4,1312.3 694.0,1312.3 699.0,1312.0C704.0,1311.7 705.5,1311.6 711.5,1310.7C717.5,1309.8 719.4,1308.7 726.5,1308.0C733.6,1307.3 736.3,1307.8 744.0,1307.5C751.7,1307.2 754.9,1307.4 761.5,1306.7C768.1,1306.0 768.0,1305.2 774.0,1304.2C780.0,1303.2 782.4,1302.5 789.0,1302.0C795.6,1301.5 798.5,1301.3 804.0,1302.0C809.5,1302.7 809.0,1303.8 814.0,1305.0C819.0,1306.2 819.9,1306.4 826.5,1307.5C833.1,1308.6 837.4,1309.5 844.0,1310.0C850.6,1310.5 851.0,1310.3 856.5,1310.0C862.0,1309.7 864.0,1309.4 869.0,1308.7C874.0,1308.0 875.1,1308.9 879.0,1307.0C882.9,1305.1 883.5,1303.7 886.5,1300.0C889.5,1296.3 890.2,1295.1 892.7,1290.0C895.2,1284.9 895.2,1280.6 897.7,1277.0C900.2,1273.4 901.0,1274.3 904.0,1273.7C907.0,1273.1 907.9,1273.1 911.5,1274.2C915.1,1275.3 917.2,1275.2 920.2,1278.7C923.2,1282.2 922.7,1285.3 925.2,1290.0C927.7,1294.7 928.7,1296.7 931.5,1300.0C934.3,1303.3 934.4,1303.5 938.0,1305.0C941.6,1306.5 943.3,1307.3 948.0,1307.0C952.7,1306.7 954.8,1306.1 959.2,1303.7C963.6,1301.3 964.4,1301.2 968.0,1296.2C971.6,1291.2 972.8,1289.2 975.5,1281.2C978.2,1273.2 978.3,1271.3 980.5,1260.0C982.7,1248.7 983.5,1238.9 985.5,1230.0C987.5,1221.1 987.8,1218.6 989.7,1219.7C991.6,1220.8 992.4,1226.1 994.2,1235.0C996.0,1243.9 996.4,1250.1 998.0,1260.0C999.6,1269.9 999.5,1272.8 1001.7,1280.0C1003.9,1287.2 1004.4,1287.9 1008.0,1292.5C1011.6,1297.1 1013.0,1298.2 1018.0,1300.7C1023.0,1303.2 1025.5,1303.2 1030.5,1303.7C1035.5,1304.2 1036.7,1302.6 1040.5,1303.0C1044.3,1303.4 1042.0,1304.6 1048.0,1305.5C1054.0,1306.4 1059.8,1306.5 1068.0,1307.0C1076.2,1307.5 1080.0,1308.1 1085.5,1308.0C1091.0,1307.9 1087.0,1306.8 1093.0,1306.7C1099.0,1306.6 1106.1,1307.6 1113.0,1307.5C1119.9,1307.4 1119.8,1308.4 1124.2,1306.2C1128.6,1304.0 1128.9,1301.7 1133.0,1297.5C1137.1,1293.3 1139.4,1288.3 1143.0,1287.2C1146.6,1286.1 1146.5,1289.7 1149.2,1292.5C1152.0,1295.3 1152.2,1297.2 1155.5,1300.0C1158.8,1302.8 1160.4,1303.9 1164.2,1305.0C1168.0,1306.1 1168.3,1304.6 1173.0,1305.0C1177.7,1305.4 1180.0,1305.6 1185.5,1307.0C1191.0,1308.4 1190.8,1310.1 1198.0,1311.2C1205.2,1312.3 1209.2,1312.0 1218.0,1312.0C1226.8,1312.0 1232.5,1311.5 1238.0,1311.2C1243.0,1310.9 1240.8,1310.6 1243.0,1310.7C1245.2,1310.8 1243.0,1311.6 1248.0,1311.7C1253.5,1311.8 1263.6,1311.3 1268.0,1311.2"/>
<path d="M97.5,1467.0C98.0,1466.8 97.8,1467.7 100.0,1466.2C102.2,1464.7 104.5,1464.1 107.5,1460.0C110.5,1455.9 110.7,1450.9 113.7,1447.5C116.7,1444.1 118.2,1444.1 121.2,1444.5C124.2,1444.9 125.0,1448.3 127.5,1449.5C130.0,1450.7 130.3,1451.9 132.5,1450.0C134.7,1448.1 135.3,1444.3 137.5,1441.0C139.7,1437.7 139.8,1440.7 142.5,1435.0C145.2,1429.3 147.2,1426.0 150.0,1415.0C152.8,1404.0 152.8,1398.2 155.0,1385.0C157.2,1371.8 157.8,1366.4 160.0,1355.0C162.2,1343.6 163.1,1340.2 165.0,1333.0C166.9,1325.8 167.3,1322.4 168.7,1322.4C170.1,1322.4 169.6,1323.1 171.2,1333.0C172.8,1342.9 173.8,1351.7 176.0,1367.5C178.2,1383.3 178.8,1390.2 181.0,1405.0C183.2,1419.8 183.8,1424.5 186.0,1435.0C188.2,1445.5 188.8,1447.0 191.0,1452.5C193.2,1458.0 192.9,1457.2 196.0,1460.0C199.1,1462.8 201.4,1463.7 205.0,1465.0C208.6,1466.3 209.5,1466.2 212.5,1465.7C215.5,1465.2 215.7,1463.1 218.7,1462.5C221.7,1461.9 223.3,1463.2 226.0,1463.0C228.7,1462.8 227.9,1460.8 231.0,1461.7C234.1,1462.6 236.4,1465.8 240.0,1467.0C243.6,1468.2 243.1,1467.9 247.5,1467.0C251.9,1466.1 254.5,1464.1 260.0,1463.0C265.5,1461.9 267.0,1462.0 272.5,1462.0C278.0,1462.0 280.3,1463.7 285.0,1463.0C289.7,1462.3 289.8,1462.4 293.7,1458.7C297.6,1455.0 298.9,1449.6 302.5,1446.0C306.1,1442.4 307.0,1442.7 310.0,1442.5C313.0,1442.3 312.7,1446.7 316.0,1445.0C319.3,1443.3 321.7,1437.8 325.0,1435.0C328.3,1432.2 328.2,1432.3 331.0,1432.5C333.8,1432.7 333.3,1433.2 337.5,1436.0C341.7,1438.8 344.5,1441.1 350.0,1445.0C355.5,1448.9 357.6,1449.6 362.5,1453.7C367.4,1457.8 367.0,1459.9 372.5,1463.7C378.0,1467.5 380.9,1468.6 387.5,1471.0C394.1,1473.4 395.9,1473.8 402.5,1474.5C409.1,1475.2 412.0,1474.6 417.5,1474.0C423.0,1473.4 423.4,1473.1 427.5,1471.7C431.6,1470.3 431.6,1468.4 436.0,1467.5C440.4,1466.6 442.2,1467.5 447.5,1467.5C452.8,1467.5 454.5,1467.9 460.0,1467.5C465.5,1467.1 468.1,1465.7 472.5,1465.7C476.9,1465.7 476.1,1465.9 480.0,1467.5C483.9,1469.1 486.1,1471.3 490.0,1473.0C493.9,1474.7 492.2,1474.8 497.5,1475.0C502.8,1475.2 508.7,1474.7 514.0,1474.0C519.3,1473.3 518.2,1472.9 521.5,1472.0C524.8,1471.1 525.7,1471.3 529.0,1470.0C532.3,1468.7 532.6,1466.9 536.5,1466.0C540.4,1465.1 543.2,1464.3 546.5,1465.7C549.8,1467.1 549.6,1468.3 551.5,1472.5C553.4,1476.7 553.6,1479.6 555.0,1485.0C556.4,1490.4 556.3,1494.0 557.7,1497.0C559.1,1500.0 559.9,1499.1 561.5,1498.7C563.1,1498.3 563.1,1499.7 565.0,1495.0C566.9,1490.3 568.0,1483.9 570.0,1477.5C572.0,1471.1 572.0,1469.0 574.0,1466.0C576.0,1463.0 575.7,1464.6 579.0,1463.7C582.3,1462.8 584.0,1462.7 589.0,1462.0C594.0,1461.3 596.0,1460.8 601.5,1460.5C607.0,1460.2 609.0,1460.2 614.0,1460.5C619.0,1460.8 620.7,1462.0 624.0,1462.0C627.3,1462.0 626.2,1460.1 629.0,1460.5C631.8,1460.9 632.6,1463.3 636.5,1464.0C640.4,1464.7 643.2,1463.3 646.5,1463.7C649.8,1464.1 647.6,1465.2 651.5,1466.0C655.4,1466.8 658.5,1467.2 664.0,1467.5C669.5,1467.8 671.0,1467.4 676.5,1467.5C682.0,1467.6 683.5,1468.0 689.0,1468.0C694.5,1468.0 696.0,1467.9 701.5,1467.5C707.0,1467.1 708.0,1466.5 714.0,1466.0C720.0,1465.5 722.4,1465.7 729.0,1465.0C735.6,1464.3 737.4,1463.9 744.0,1463.0C750.6,1462.1 751.9,1461.9 759.0,1461.0C766.1,1460.1 769.9,1459.9 776.5,1458.7C783.1,1457.5 783.0,1456.6 789.0,1455.7C795.0,1454.8 799.0,1454.4 804.0,1454.5C809.0,1454.6 807.6,1454.8 811.5,1456.0C815.4,1457.2 816.5,1458.7 821.5,1460.0C826.5,1461.3 829.3,1460.7 834.0,1462.0C838.7,1463.3 839.4,1465.1 842.7,1466.0C846.0,1466.9 846.0,1466.2 849.0,1466.0C852.0,1465.8 852.1,1465.2 856.5,1465.0C860.9,1464.8 863.5,1465.5 869.0,1465.0C874.5,1464.5 877.1,1463.9 881.5,1462.5C885.9,1461.1 885.7,1461.7 889.0,1458.7C892.3,1455.7 893.0,1451.7 896.5,1448.7C900.0,1445.7 900.6,1445.6 905.0,1445.0C909.4,1444.4 912.3,1444.3 916.5,1446.0C920.7,1447.7 920.1,1449.4 924.0,1452.5C927.9,1455.6 930.9,1458.1 934.0,1460.0C937.1,1461.9 934.4,1461.1 938.0,1461.2C941.6,1461.3 945.0,1461.0 950.5,1460.5C956.0,1460.0 958.6,1460.5 963.0,1458.7C967.4,1456.9 967.2,1457.2 970.5,1452.5C973.8,1447.8 974.7,1445.2 978.0,1437.5C981.3,1429.8 982.8,1423.1 985.5,1417.5C988.2,1411.9 988.6,1412.5 990.5,1412.2C992.4,1411.9 992.3,1411.7 994.2,1416.2C996.1,1420.7 997.0,1425.6 999.2,1432.5C1001.4,1439.4 1001.2,1442.5 1004.2,1447.5C1007.2,1452.5 1008.3,1452.8 1013.0,1455.0C1017.7,1457.2 1018.9,1456.5 1025.5,1457.5C1032.1,1458.5 1036.4,1458.7 1043.0,1459.5C1049.6,1460.3 1049.5,1461.1 1055.5,1461.2C1061.5,1461.3 1063.3,1460.4 1070.5,1460.0C1077.7,1459.6 1080.8,1458.9 1088.0,1459.2C1095.2,1459.5 1095.3,1461.3 1103.0,1461.2C1110.7,1461.1 1116.4,1461.2 1123.0,1458.7C1129.6,1456.2 1129.2,1453.7 1133.0,1450.0C1136.8,1446.3 1137.8,1444.2 1140.5,1442.0C1143.2,1439.8 1143.3,1439.3 1145.5,1440.0C1147.7,1440.7 1147.8,1442.0 1150.5,1445.0C1153.2,1448.0 1154.2,1451.0 1158.0,1453.7C1161.8,1456.5 1162.0,1456.1 1168.0,1457.5C1174.0,1458.9 1177.8,1458.3 1185.5,1460.0C1193.2,1461.7 1194.2,1463.9 1203.0,1465.0C1211.8,1466.1 1215.0,1465.1 1225.5,1465.0C1236.0,1464.9 1241.2,1464.8 1250.5,1464.5C1259.8,1464.2 1264.2,1463.9 1268.0,1463.7"/>
</g>
<g transform="translate(0,0.5)" fill="none" stroke="#000" stroke-width="4.4" stroke-linejoin="round" stroke-linecap="round">
<path d="M97.5,588.0C98.0,587.9 97.5,588.0 100.0,587.5C102.5,587.0 105.4,588.0 108.7,585.5C112.0,583.0 112.5,581.3 115.0,576.2C117.5,571.1 118.1,569.4 120.0,562.5C121.9,555.6 122.0,549.7 123.7,545.0C125.4,540.3 125.6,540.5 127.5,541.0C129.4,541.5 130.0,542.5 132.5,547.5C135.0,552.5 135.7,559.4 138.7,563.7C141.7,568.0 143.4,568.9 146.2,567.0C148.9,565.1 149.0,562.0 151.2,555.0C153.4,548.0 154.3,546.0 156.2,535.0C158.1,524.0 158.5,522.6 160.0,505.0C161.5,487.4 161.7,478.1 163.0,455.0C164.3,431.9 164.3,440.5 165.8,400.0C167.3,359.5 168.1,315.4 169.6,271.0C171.1,226.6 171.7,220.2 172.7,198.0C173.7,175.8 173.6,178.4 174.2,170.0C174.8,161.6 174.3,159.6 175.2,159.6C176.1,159.6 177.3,161.6 178.3,170.0C179.3,178.4 178.8,175.8 179.9,198.0C181.0,220.2 181.8,226.6 183.3,271.0C184.8,315.4 185.6,365.0 186.8,400.0C188.0,435.0 188.0,412.4 188.7,430.0C189.4,447.6 189.2,458.0 190.0,480.0C190.8,502.0 191.1,513.5 192.5,530.0C193.9,546.5 194.3,545.4 196.2,555.0C198.1,564.6 199.0,569.3 201.2,573.7C203.4,578.1 204.3,573.4 206.2,575.0C208.1,576.6 207.8,580.7 210.0,581.2C212.2,581.8 213.2,578.0 216.2,577.5C219.2,577.0 220.7,580.9 223.7,578.7C226.7,576.5 227.0,570.8 230.0,567.5C233.0,564.2 234.5,563.0 237.5,563.5C240.5,564.0 240.9,567.2 243.7,570.0C246.4,572.8 247.8,573.5 250.0,576.2C252.2,579.0 251.2,581.1 253.7,582.5C256.2,583.9 258.4,583.3 261.2,582.5C263.9,581.7 264.6,578.6 266.2,578.7C267.8,578.8 266.2,582.5 268.7,583.0C271.2,583.5 273.4,581.4 277.5,581.2C281.6,581.0 283.6,582.5 287.5,582.0C291.4,581.5 291.7,579.1 295.0,578.7C298.3,578.3 299.2,581.1 302.5,580.0C305.8,578.9 307.0,576.2 310.0,573.7C313.0,571.2 314.0,571.7 316.2,568.7C318.4,565.7 318.4,565.8 320.0,560.0C321.6,554.2 322.1,552.4 323.7,542.5C325.3,532.6 325.9,527.1 327.5,515.0C329.1,502.9 329.6,497.4 331.2,487.5C332.8,477.6 333.5,475.5 335.0,470.0C336.5,464.5 336.4,460.3 338.0,462.5C339.6,464.7 340.7,470.6 342.5,480.0C344.3,489.4 344.3,497.0 346.2,505.0C348.1,513.0 348.7,514.0 351.2,516.2C353.7,518.4 354.5,513.1 357.5,515.0C360.5,516.9 362.8,519.5 365.0,525.0C367.2,530.5 365.9,534.0 367.5,540.0C369.1,546.0 370.3,547.3 372.5,552.5C374.7,557.7 375.0,560.7 377.5,563.7C380.0,566.7 380.4,564.0 383.7,566.2C387.0,568.4 388.9,572.3 392.5,573.7C396.1,575.1 396.7,572.0 400.0,572.5C403.3,573.0 404.3,574.1 407.5,576.2C410.7,578.3 412.0,581.7 414.5,582.0C417.0,582.3 416.1,578.9 418.7,577.5C421.3,576.1 422.9,575.5 426.2,575.7C429.5,575.9 430.1,578.8 433.7,578.2C437.3,577.6 439.5,574.3 442.5,573.0C445.5,571.7 445.6,574.0 447.5,572.5C449.4,571.0 449.0,567.9 451.2,566.2C453.4,564.6 455.6,568.3 457.5,565.0C459.4,561.7 458.4,556.7 460.0,551.2C461.6,545.7 463.1,545.2 465.0,540.0C466.9,534.8 466.8,532.7 468.7,527.5C470.6,522.3 471.9,519.8 473.7,516.2C475.5,512.6 475.6,510.2 477.0,511.0C478.4,511.8 478.2,513.6 480.0,520.0C481.8,526.4 482.8,532.3 485.0,540.0C487.2,547.7 487.8,550.0 490.0,555.0C492.2,560.0 492.5,559.5 495.0,562.5C497.5,565.5 498.4,568.2 501.2,568.7C503.9,569.2 504.7,565.9 507.5,565.0C510.3,564.1 511.2,564.6 514.0,564.5C516.8,564.4 517.5,565.5 520.2,564.5C523.0,563.5 524.0,562.6 526.5,560.0C529.0,557.4 529.0,555.0 531.5,552.5C534.0,550.0 535.2,551.5 537.7,548.7C540.2,546.0 540.5,543.9 542.7,540.0C544.9,536.1 545.5,534.8 547.7,531.2C549.9,527.6 550.5,523.8 552.7,523.5C554.9,523.2 555.5,527.8 557.7,530.0C559.9,532.2 560.8,534.8 562.7,533.7C564.6,532.6 564.0,528.2 566.5,525.0C569.0,521.8 571.0,519.5 574.0,519.0C577.0,518.5 577.2,523.0 580.2,522.7C583.2,522.4 585.0,518.9 587.7,517.5C590.5,516.1 590.5,519.5 592.7,516.2C594.9,512.9 595.5,509.1 597.7,502.5C599.9,495.9 600.5,492.2 602.7,486.2C604.9,480.1 605.5,479.0 607.7,475.0C609.9,471.0 610.5,468.8 612.7,468.0C614.9,467.2 615.5,467.5 617.7,471.2C619.9,474.9 620.5,479.2 622.7,485.0C624.9,490.8 625.5,490.9 627.7,497.5C629.9,504.1 630.5,508.9 632.7,515.0C634.9,521.0 635.8,521.4 637.7,525.0C639.6,528.6 638.8,529.3 641.5,531.2C644.2,533.1 646.6,531.8 650.2,533.7C653.8,535.6 654.1,538.2 657.7,540.0C661.3,541.8 662.4,541.5 666.5,542.0C670.6,542.5 672.4,541.6 676.5,542.5C680.6,543.4 682.5,546.8 685.2,546.2C688.0,545.7 687.1,540.5 689.0,540.0C690.9,539.5 690.7,543.4 694.0,543.7C697.3,544.0 699.0,541.0 704.0,541.2C709.0,541.4 711.8,544.2 716.5,544.5C721.2,544.8 722.2,544.3 725.2,542.5C728.2,540.7 728.0,538.4 730.2,536.2C732.4,534.0 733.0,532.2 735.2,532.5C737.4,532.8 737.7,538.0 740.2,537.7C742.7,537.4 744.3,532.1 746.5,531.2C748.7,530.3 747.5,534.8 750.2,533.7C753.0,532.6 755.1,527.9 759.0,526.2C762.9,524.6 764.4,527.2 767.7,526.2C771.0,525.2 771.2,522.2 774.0,521.7C776.8,521.2 777.2,524.9 780.2,524.0C783.2,523.1 785.2,521.7 787.7,517.5C790.2,513.3 789.6,510.2 791.5,505.0C793.4,499.8 794.3,499.8 796.5,493.7C798.7,487.6 799.0,483.6 801.5,477.5C804.0,471.4 804.8,470.8 807.7,466.2C810.6,461.6 812.0,455.9 814.7,456.7C817.5,457.5 817.9,463.8 820.2,470.0C822.5,476.2 823.3,478.9 825.2,485.0C827.1,491.1 826.8,492.0 829.0,497.5C831.2,503.0 832.5,505.9 835.2,510.0C838.0,514.1 839.0,512.9 841.5,516.2C844.0,519.5 844.0,522.2 846.5,525.0C849.0,527.8 849.7,527.1 852.7,528.7C855.7,530.4 857.5,532.5 860.2,532.5C863.0,532.5 863.0,528.7 865.2,528.7C867.4,528.7 866.1,531.6 870.2,532.5C874.3,533.4 879.9,533.3 884.0,533.0C888.1,532.7 887.1,530.9 889.0,531.2C890.9,531.5 890.5,534.5 892.7,534.5C894.9,534.5 895.4,532.0 899.0,531.2C902.6,530.4 904.6,531.5 909.0,530.7C913.4,529.9 915.1,528.6 919.0,527.5C922.9,526.4 923.8,525.4 926.5,525.7C929.2,526.0 929.0,528.6 931.5,528.7C934.0,528.8 934.4,526.3 938.0,526.2C941.6,526.1 943.6,528.2 948.0,528.2C952.4,528.2 953.6,526.6 958.0,526.2C962.4,525.8 963.6,527.0 968.0,526.2C972.4,525.4 974.4,522.8 978.0,522.5C981.6,522.2 980.9,525.1 984.2,525.0C987.5,524.9 988.9,522.4 993.0,522.0C997.1,521.6 999.7,522.4 1003.0,523.2C1006.3,524.0 1005.8,526.5 1008.0,525.7C1010.2,524.9 1009.7,520.9 1013.0,519.5C1016.3,518.1 1018.6,519.8 1023.0,519.5C1027.4,519.2 1028.0,517.9 1033.0,518.0C1038.0,518.1 1041.1,520.4 1045.5,520.0C1049.9,519.6 1049.4,517.7 1053.0,516.2C1056.6,514.7 1058.1,513.2 1061.7,513.2C1065.3,513.2 1065.6,516.4 1069.2,516.2C1072.8,516.0 1073.9,513.6 1078.0,512.5C1082.1,511.4 1084.4,511.9 1088.0,511.2C1091.6,510.5 1092.0,508.9 1094.2,509.5C1096.4,510.1 1095.8,514.0 1098.0,514.0C1100.2,514.0 1101.7,511.2 1104.2,509.5C1106.7,507.8 1107.3,505.8 1109.2,506.2C1111.1,506.6 1109.7,510.5 1113.0,511.2C1116.3,511.9 1120.1,511.7 1124.2,509.5C1128.3,507.3 1129.0,504.9 1131.7,501.2C1134.5,497.5 1134.8,499.4 1136.7,492.5C1138.6,485.6 1139.1,480.4 1140.5,470.0C1141.9,459.6 1141.9,456.0 1143.0,445.0C1144.1,434.0 1144.1,428.8 1145.5,420.0C1146.9,411.2 1148.0,408.9 1149.2,405.0C1150.4,401.1 1149.9,400.9 1151.0,402.5C1152.1,404.1 1152.8,405.4 1154.2,412.5C1155.6,419.6 1156.2,423.4 1157.5,435.0C1158.8,446.6 1158.8,454.6 1160.0,465.0C1161.2,475.4 1161.2,477.0 1163.0,482.5C1164.8,488.0 1165.5,487.4 1168.0,490.0C1170.5,492.6 1169.8,493.5 1174.2,494.5C1178.6,495.5 1183.9,495.1 1188.0,494.5C1192.1,493.9 1191.1,491.6 1193.0,492.0C1194.9,492.4 1194.2,495.0 1196.7,496.2C1199.2,497.4 1200.9,496.4 1204.2,497.5C1207.5,498.6 1209.0,500.6 1211.7,501.2C1214.5,501.8 1214.8,498.6 1216.7,500.0C1218.6,501.4 1218.6,506.9 1220.5,507.7C1222.4,508.5 1223.3,504.6 1225.5,503.7C1227.7,502.8 1228.3,504.6 1230.5,503.7C1232.7,502.8 1233.3,499.3 1235.5,499.7C1237.7,500.1 1238.3,504.9 1240.5,505.5C1242.7,506.1 1242.5,503.2 1245.5,502.5C1248.5,501.8 1250.9,501.6 1254.2,502.5C1257.5,503.4 1257.8,507.1 1260.5,506.5C1263.2,505.9 1265.3,501.4 1266.7,500.0"/>
<path d="M97.5,902.5C98.0,902.5 97.5,902.8 100.0,902.5C102.5,902.2 105.1,903.4 108.7,901.2C112.3,899.0 113.2,897.7 116.2,892.5C119.2,887.3 120.3,881.6 122.5,877.5C124.7,873.4 124.3,873.4 126.2,873.7C128.1,874.0 128.7,875.1 131.2,878.7C133.7,882.3 135.3,886.6 137.5,890.0C139.7,893.4 138.4,894.0 141.2,894.0C143.9,894.0 147.0,893.6 150.0,890.0C153.0,886.4 152.8,886.3 155.0,877.5C157.2,868.7 158.1,864.3 160.0,850.0C161.9,835.7 162.3,829.0 163.7,812.5C165.1,796.0 165.1,794.2 166.2,775.0C167.3,755.8 167.6,747.0 168.7,725.0C169.8,703.0 169.9,692.6 171.2,675.0C172.5,657.4 173.5,654.6 174.6,645.0C175.7,635.4 175.4,629.0 176.3,631.2C177.2,633.4 177.4,639.9 178.5,655.0C179.6,670.1 180.1,679.1 181.2,700.0C182.3,720.9 182.6,728.0 183.7,750.0C184.8,772.0 185.1,779.6 186.2,800.0C187.3,820.4 187.3,824.4 188.7,842.5C190.1,860.6 190.6,871.2 192.5,882.5C194.4,893.8 194.8,890.1 197.5,893.7C200.2,897.3 201.2,897.3 205.0,898.7C208.8,900.1 210.6,900.3 215.0,900.0C219.4,899.7 221.2,899.4 225.0,897.5C228.8,895.6 229.5,892.7 232.5,891.2C235.5,889.7 235.9,889.6 238.7,890.7C241.4,891.8 241.4,893.5 245.0,896.2C248.6,898.9 250.6,901.9 255.0,903.0C259.4,904.1 261.1,902.0 265.0,901.2C268.9,900.4 269.2,899.4 272.5,899.5C275.8,899.6 276.1,901.6 280.0,901.7C283.9,901.8 285.6,900.7 290.0,900.0C294.4,899.3 296.7,898.6 300.0,898.7C303.3,898.8 302.2,901.0 305.0,900.5C307.8,900.0 309.5,899.1 312.5,896.2C315.5,893.3 316.2,892.2 318.7,887.5C321.2,882.8 321.8,882.7 323.7,875.0C325.6,867.3 325.6,861.3 327.5,852.5C329.4,843.7 330.3,841.1 332.5,835.0C334.7,828.9 335.6,824.2 337.5,824.7C339.4,825.2 339.6,830.8 341.2,837.5C342.8,844.2 343.4,849.2 345.0,855.0C346.6,860.8 346.8,863.2 348.7,864.0C350.6,864.8 351.2,860.4 353.7,858.7C356.2,857.0 357.5,854.8 360.0,856.2C362.5,857.6 362.8,859.8 365.0,865.0C367.2,870.2 367.8,874.8 370.0,880.0C372.2,885.2 372.8,885.4 375.0,888.7C377.2,892.0 378.4,894.4 380.0,895.2C381.6,896.0 381.1,891.6 382.5,892.2C383.9,892.8 383.7,896.3 386.2,898.0C388.7,899.7 391.2,900.1 393.7,900.0C396.2,899.9 395.6,897.5 397.5,897.5C399.4,897.5 399.2,899.2 402.5,900.0C405.8,900.8 408.1,901.8 412.5,901.2C416.9,900.7 418.6,898.0 422.5,897.5C426.4,897.0 426.1,899.5 430.0,898.7C433.9,897.9 436.7,894.5 440.0,893.7C443.3,892.9 442.8,895.5 445.0,895.0C447.2,894.5 447.5,893.7 450.0,891.2C452.5,888.7 453.4,886.2 456.2,883.7C458.9,881.2 460.3,883.6 462.5,880.0C464.7,876.4 463.7,872.9 466.2,867.5C468.7,862.1 470.9,856.0 473.7,855.5C476.4,855.0 475.9,859.1 478.7,865.0C481.4,870.9 482.9,875.9 486.2,882.5C489.5,889.1 490.1,892.5 493.7,895.0C497.3,897.5 498.6,893.9 502.5,893.7C506.4,893.5 508.7,893.5 511.2,894.2C513.7,894.9 511.7,897.7 514.0,896.8C516.3,895.9 518.5,892.0 521.5,890.0C524.5,888.0 525.8,887.3 527.7,887.5C529.6,887.7 528.8,891.5 530.2,891.0C531.6,890.5 532.1,886.6 534.0,885.0C535.9,883.4 537.4,885.2 539.0,883.7C540.6,882.2 540.1,878.5 541.5,878.0C542.9,877.5 543.6,882.7 545.2,881.2C546.9,879.7 547.1,874.8 549.0,871.2C550.9,867.6 551.8,865.4 554.0,864.7C556.2,864.0 556.8,867.5 559.0,868.0C561.2,868.5 562.4,866.2 564.0,867.0C565.6,867.8 564.6,871.3 566.5,871.5C568.4,871.7 570.0,868.3 572.7,868.0C575.5,867.7 575.4,869.7 579.0,870.0C582.6,870.3 585.7,870.9 589.0,869.2C592.3,867.6 591.5,866.2 594.0,862.5C596.5,858.8 597.5,857.5 600.2,852.5C603.0,847.5 604.5,845.0 606.5,840.0C608.5,835.0 607.4,832.2 609.5,830.0C611.6,827.8 613.6,827.2 616.0,830.0C618.4,832.8 618.2,837.0 620.2,842.5C622.2,848.0 623.3,850.0 625.2,855.0C627.1,860.0 626.8,861.1 629.0,865.0C631.2,868.9 632.7,869.6 635.2,872.5C637.7,875.4 637.7,876.8 640.2,878.0C642.7,879.2 644.3,877.1 646.5,878.0C648.7,878.9 648.6,881.5 650.2,882.0C651.9,882.5 652.1,880.4 654.0,880.5C655.9,880.6 656.8,881.4 659.0,882.5C661.2,883.6 661.8,885.2 664.0,885.5C666.2,885.8 666.8,883.5 669.0,883.7C671.2,883.9 671.8,886.2 674.0,886.2C676.2,886.2 676.0,884.5 679.0,883.7C682.0,882.9 684.4,882.1 687.7,882.5C691.0,882.9 689.9,885.2 694.0,885.5C698.1,885.8 702.4,883.7 706.5,883.7C710.6,883.7 710.2,886.2 712.7,885.7C715.2,885.2 714.7,881.8 717.7,881.2C720.7,880.6 722.9,883.5 726.5,883.0C730.1,882.5 730.7,878.8 734.0,878.7C737.3,878.6 738.5,882.8 741.5,882.5C744.5,882.2 745.0,878.3 747.7,877.5C750.5,876.7 751.0,879.2 754.0,878.7C757.0,878.2 758.2,875.5 761.5,875.0C764.8,874.5 765.7,876.2 769.0,876.2C772.3,876.2 774.0,874.8 776.5,875.0C779.0,875.2 778.0,878.1 780.2,877.0C782.4,875.9 783.5,873.2 786.5,870.0C789.5,866.8 791.2,866.6 794.0,862.5C796.8,858.4 796.8,855.3 799.0,851.2C801.2,847.1 802.6,847.0 804.0,843.7C805.2,840.4 804.0,838.4 805.2,836.2C807.1,834.0 809.7,833.2 812.7,833.7C815.7,834.2 816.8,835.4 819.0,838.7C821.2,842.0 821.1,845.1 822.7,848.7C824.4,852.3 825.1,851.7 826.5,855.0C827.9,858.3 827.1,860.4 829.0,863.7C830.9,867.0 832.7,867.6 835.2,870.0C837.7,872.4 837.7,873.2 840.2,874.5C842.7,875.8 844.0,874.5 846.5,875.7C849.0,876.9 848.8,879.5 851.5,880.0C854.2,880.5 855.1,878.2 859.0,878.2C862.9,878.2 864.0,879.9 869.0,880.0C874.0,880.1 877.6,878.3 881.5,878.7C885.4,879.1 883.2,882.3 886.5,882.0C889.8,881.7 891.8,877.9 896.5,877.5C901.2,877.1 904.7,881.0 907.7,880.0C910.2,879.0 908.8,873.7 910.2,873.0C911.6,872.3 911.5,876.7 914.0,877.0C916.5,877.3 918.8,874.5 921.5,874.5C924.2,874.5 923.8,876.9 926.5,877.0C929.2,877.1 931.5,875.3 934.0,875.0C936.5,874.7 934.4,875.7 938.0,875.7C941.6,875.7 945.0,874.7 950.5,875.0C956.0,875.3 958.0,876.0 963.0,877.0C968.0,878.0 969.7,880.0 973.0,879.5C976.3,879.0 974.7,875.8 978.0,874.5C981.3,873.2 983.6,875.0 988.0,873.7C992.4,872.4 994.4,871.1 998.0,868.7C1001.6,866.3 1001.5,862.2 1004.2,863.0C1007.0,863.8 1007.5,870.1 1010.5,872.5C1013.5,874.9 1014.7,873.3 1018.0,873.7C1021.3,874.1 1022.2,874.9 1025.5,874.5C1028.8,874.1 1027.0,872.5 1033.0,872.0C1039.0,871.5 1047.5,872.5 1053.0,872.0C1058.0,871.5 1055.8,869.5 1058.0,869.5C1060.2,869.5 1058.6,871.8 1063.0,872.0C1067.4,872.2 1072.8,871.5 1078.0,870.5C1083.2,869.5 1084.2,867.0 1086.7,867.5C1089.2,868.0 1087.5,872.7 1089.2,872.7C1090.9,872.7 1091.2,868.4 1094.2,867.5C1097.2,866.6 1099.4,869.0 1103.0,868.7C1106.6,868.4 1107.2,866.3 1110.5,866.2C1113.8,866.1 1114.2,868.0 1118.0,868.2C1121.8,868.4 1124.4,869.4 1128.0,867.0C1131.6,864.6 1131.7,862.9 1134.2,857.5C1136.7,852.1 1137.3,850.8 1139.2,842.5C1141.1,834.2 1141.3,829.4 1143.0,820.0C1144.7,810.6 1145.4,805.2 1146.7,800.0C1148.0,794.8 1147.6,795.7 1148.7,796.2C1149.8,796.8 1150.2,796.2 1151.7,802.5C1153.2,808.8 1153.8,815.1 1155.5,825.0C1157.2,834.9 1157.3,840.4 1159.2,847.5C1161.1,854.6 1162.3,854.3 1164.2,857.5C1166.1,860.7 1165.5,861.6 1168.0,862.0C1170.5,862.4 1171.1,859.9 1175.5,859.5C1179.9,859.1 1182.5,859.3 1188.0,860.0C1193.5,860.7 1195.8,861.4 1200.5,862.5C1205.2,863.6 1205.9,865.1 1209.2,865.0C1212.5,864.9 1212.5,861.7 1215.5,862.0C1218.5,862.3 1220.2,866.5 1223.0,866.5C1225.8,866.5 1225.2,862.3 1228.0,862.0C1230.8,861.7 1232.5,864.7 1235.5,865.0C1238.5,865.3 1239.0,863.9 1241.7,863.2C1244.5,862.5 1245.2,861.3 1248.0,862.0C1250.8,862.7 1251.5,865.8 1254.2,866.2C1257.0,866.6 1257.8,864.1 1260.5,863.7C1263.2,863.3 1265.3,864.3 1266.7,864.5"/>
<path d="M97.5,1088.5C98.0,1088.3 98.1,1088.8 100.0,1087.5C101.9,1086.2 102.9,1086.6 106.2,1082.5C109.5,1078.4 111.7,1073.2 115.0,1068.7C118.3,1064.2 118.5,1062.8 121.2,1062.2C124.0,1061.7 125.0,1065.0 127.5,1066.2C130.0,1067.4 130.0,1068.3 132.5,1067.5C135.0,1066.7 135.9,1066.3 138.7,1062.5C141.4,1058.7 142.2,1056.0 145.0,1050.0C147.8,1044.0 148.7,1043.8 151.2,1035.0C153.7,1026.2 154.0,1021.5 156.2,1010.0C158.4,998.5 159.0,996.1 161.2,982.5C163.4,968.9 164.3,957.4 166.2,948.0C168.1,938.6 168.3,940.0 170.0,940.0C171.7,940.0 172.0,940.3 173.7,948.0C175.3,955.7 175.6,960.8 177.5,975.0C179.4,989.2 180.3,996.0 182.5,1012.5C184.7,1029.0 185.3,1037.3 187.5,1050.0C189.7,1062.7 190.0,1063.7 192.5,1070.0C195.0,1076.3 195.7,1075.5 198.7,1078.7C201.7,1081.9 202.6,1083.2 206.2,1084.5C209.8,1085.8 210.6,1084.8 215.0,1084.5C219.4,1084.2 222.1,1084.0 226.2,1083.0C230.3,1082.0 230.9,1079.7 233.7,1080.0C236.4,1080.3 235.1,1083.0 238.7,1084.2C242.3,1085.4 244.8,1086.2 250.0,1085.5C255.2,1084.8 256.4,1081.6 262.5,1081.2C268.6,1080.8 271.4,1083.3 277.5,1083.7C283.6,1084.1 285.9,1083.5 290.0,1083.0C294.1,1082.5 293.4,1084.1 296.2,1081.2C298.9,1078.3 299.2,1074.4 302.5,1070.0C305.8,1065.6 308.2,1062.4 311.2,1061.2C314.2,1060.0 313.7,1064.2 316.2,1064.5C318.7,1064.8 319.8,1064.9 322.5,1062.5C325.2,1060.1 326.2,1056.2 328.7,1053.7C331.2,1051.2 331.2,1050.9 333.7,1051.2C336.2,1051.5 336.4,1052.0 340.0,1055.0C343.6,1058.0 345.1,1060.6 350.0,1065.0C354.9,1069.4 357.0,1070.6 362.5,1075.0C368.0,1079.4 369.5,1081.6 375.0,1085.0C380.5,1088.4 382.0,1088.3 387.5,1090.5C393.0,1092.7 393.9,1093.7 400.0,1095.0C406.1,1096.3 409.5,1096.8 415.0,1096.2C420.5,1095.7 420.1,1094.2 425.0,1092.5C429.9,1090.8 432.6,1089.7 437.5,1088.7C442.4,1087.7 443.1,1087.7 447.5,1088.0C451.9,1088.3 453.1,1090.1 457.5,1090.0C461.9,1089.9 462.6,1088.2 467.5,1087.5C472.4,1086.8 475.6,1085.9 480.0,1087.0C484.4,1088.1 483.1,1090.3 487.5,1092.5C491.9,1094.7 494.2,1095.7 500.0,1097.0C505.8,1098.3 508.7,1099.3 514.0,1098.6C519.3,1097.9 519.6,1095.6 524.0,1093.7C528.4,1091.8 529.6,1091.7 534.0,1090.0C538.4,1088.3 540.7,1085.9 544.0,1086.2C547.3,1086.5 546.8,1087.4 549.0,1091.2C551.2,1095.0 552.1,1097.4 554.0,1103.7C555.9,1110.0 556.3,1115.0 557.7,1120.0C559.1,1125.0 558.8,1125.7 560.2,1126.2C561.6,1126.8 562.1,1126.9 564.0,1122.5C565.9,1118.1 566.9,1113.9 569.0,1106.2C571.1,1098.5 569.6,1092.2 573.5,1087.5C577.4,1082.8 580.9,1085.8 586.5,1085.0C592.1,1084.2 593.5,1084.5 599.0,1083.7C604.5,1082.9 606.5,1081.4 611.5,1081.2C616.5,1081.0 616.5,1082.2 621.5,1083.0C626.5,1083.8 628.0,1084.3 634.0,1085.0C640.0,1085.7 642.4,1084.8 649.0,1086.2C655.6,1087.6 657.4,1090.3 664.0,1091.2C670.6,1092.1 674.0,1090.9 679.0,1090.5C684.0,1090.1 683.2,1089.0 686.5,1089.2C689.8,1089.4 689.6,1090.6 694.0,1091.2C698.4,1091.8 701.5,1092.5 706.5,1092.0C711.5,1091.5 711.0,1089.7 716.5,1088.7C722.0,1087.7 724.9,1088.3 731.5,1087.5C738.1,1086.7 739.4,1085.9 746.5,1085.0C753.6,1084.1 756.3,1083.6 764.0,1083.2C771.7,1082.8 775.5,1083.8 781.5,1083.0C787.5,1082.2 786.8,1080.6 791.5,1079.5C796.2,1078.4 797.8,1077.6 802.7,1078.0C807.7,1078.4 809.3,1080.2 814.0,1081.2C818.7,1082.2 820.1,1081.4 824.0,1082.5C827.9,1083.6 827.6,1085.7 831.5,1086.2C835.4,1086.8 837.1,1084.5 841.5,1085.0C845.9,1085.5 847.1,1088.2 851.5,1088.7C855.9,1089.2 857.6,1087.4 861.5,1087.5C865.4,1087.6 864.6,1089.8 869.0,1089.2C873.4,1088.7 876.8,1086.5 881.5,1085.0C886.2,1083.5 886.9,1085.0 890.2,1082.5C893.5,1080.0 893.5,1077.0 896.5,1073.7C899.5,1070.4 900.1,1068.9 904.0,1067.5C907.9,1066.1 909.6,1066.4 914.0,1067.5C918.4,1068.6 920.1,1069.5 924.0,1072.5C927.9,1075.5 928.4,1078.6 931.5,1081.2C934.6,1083.8 934.7,1083.2 938.0,1084.5C941.3,1085.8 941.8,1087.2 946.7,1087.0C951.7,1086.8 955.3,1085.8 960.5,1083.7C965.7,1081.6 966.6,1081.6 970.5,1077.5C974.4,1073.4 974.7,1072.2 978.0,1065.0C981.3,1057.8 982.6,1050.6 985.5,1045.0C988.4,1039.4 988.5,1039.2 991.0,1039.7C993.5,1040.2 994.3,1041.4 996.7,1047.5C999.1,1053.6 999.0,1060.9 1001.7,1067.5C1004.5,1074.1 1005.1,1074.2 1009.2,1077.5C1013.3,1080.8 1014.2,1081.0 1020.5,1082.5C1026.8,1084.0 1031.4,1083.7 1038.0,1084.2C1044.6,1084.8 1045.5,1084.6 1050.5,1085.0C1055.5,1085.4 1054.5,1086.2 1060.5,1086.2C1066.5,1086.2 1069.8,1085.3 1078.0,1085.0C1086.2,1084.7 1090.3,1085.0 1098.0,1085.0C1105.7,1085.0 1106.7,1085.4 1113.0,1085.0C1119.3,1084.6 1121.8,1085.8 1126.7,1083.0C1131.7,1080.2 1131.9,1076.7 1135.5,1072.5C1139.1,1068.3 1140.0,1065.4 1143.0,1063.7C1146.0,1062.0 1146.5,1062.5 1149.2,1065.0C1152.0,1067.5 1152.5,1071.4 1155.5,1075.0C1158.5,1078.6 1158.0,1079.0 1163.0,1081.2C1168.0,1083.4 1171.4,1083.6 1178.0,1085.0C1184.6,1086.4 1186.4,1086.6 1193.0,1087.5C1199.6,1088.4 1200.8,1088.9 1208.0,1089.2C1215.2,1089.5 1217.2,1089.0 1225.5,1088.7C1233.8,1088.4 1236.2,1088.2 1245.5,1088.0C1254.8,1087.8 1263.0,1088.0 1268.0,1088.0"/>
<path d="M97.5,1297.0C98.0,1296.8 98.1,1297.5 100.0,1296.2C101.9,1294.9 103.2,1295.0 106.2,1291.2C109.2,1287.4 110.7,1282.8 113.7,1278.7C116.7,1274.6 117.2,1273.0 120.0,1272.5C122.8,1272.0 123.7,1275.4 126.2,1276.2C128.7,1277.0 128.7,1278.4 131.2,1276.2C133.7,1274.0 134.5,1272.0 137.5,1266.2C140.5,1260.4 142.0,1256.9 145.0,1250.0C148.0,1243.1 148.7,1243.2 151.2,1235.0C153.7,1226.8 154.0,1224.0 156.2,1212.5C158.4,1201.0 159.3,1193.9 161.2,1182.5C163.1,1171.1 163.3,1166.9 165.0,1160.5C166.7,1154.1 167.0,1152.5 168.7,1153.6C170.3,1154.7 170.8,1156.4 172.5,1165.5C174.2,1174.6 174.3,1179.7 176.2,1195.0C178.1,1210.3 179.0,1219.0 181.2,1235.0C183.4,1251.0 184.0,1256.8 186.2,1267.5C188.4,1278.2 188.7,1278.5 191.2,1283.7C193.7,1288.9 194.8,1288.5 197.5,1291.2C200.2,1294.0 199.8,1295.1 203.7,1296.2C207.5,1297.3 210.3,1296.6 215.0,1296.2C219.7,1295.8 221.2,1294.9 225.0,1294.2C228.8,1293.5 229.5,1292.4 232.5,1293.0C235.5,1293.6 235.9,1296.2 238.7,1297.0C241.4,1297.8 241.7,1297.8 245.0,1296.5C248.3,1295.2 249.8,1292.9 253.7,1291.2C257.6,1289.5 258.9,1290.0 262.5,1288.7C266.1,1287.4 266.1,1285.7 270.0,1285.5C273.9,1285.3 275.9,1287.5 280.0,1288.0C284.1,1288.5 285.4,1289.5 288.7,1288.0C292.0,1286.5 292.2,1286.3 295.0,1281.2C297.8,1276.1 298.7,1270.2 301.2,1265.0C303.7,1259.8 304.3,1259.6 306.2,1257.5C308.1,1255.4 308.1,1254.7 310.0,1255.5C311.9,1256.3 312.8,1258.7 315.0,1261.2C317.2,1263.7 317.8,1265.9 320.0,1266.7C322.2,1267.5 322.8,1266.4 325.0,1265.0C327.2,1263.6 327.0,1261.0 330.0,1260.5C333.0,1260.0 335.9,1260.4 338.7,1262.5C341.4,1264.6 339.8,1266.8 342.5,1270.0C345.2,1273.2 347.6,1274.8 351.2,1277.0C354.8,1279.2 355.7,1278.0 358.7,1280.0C361.7,1282.0 362.0,1283.2 365.0,1286.2C368.0,1289.2 369.2,1291.5 372.5,1293.7C375.8,1295.9 376.7,1294.8 380.0,1296.2C383.3,1297.6 383.6,1298.7 387.5,1300.0C391.4,1301.3 393.4,1301.2 397.5,1302.0C401.6,1302.8 402.3,1303.7 406.2,1303.7C410.1,1303.7 411.4,1303.1 415.0,1302.0C418.6,1300.9 419.2,1300.7 422.5,1298.7C425.8,1296.7 426.7,1294.8 430.0,1293.0C433.3,1291.2 434.2,1290.9 437.5,1290.7C440.8,1290.5 440.9,1290.2 445.0,1292.0C449.1,1293.8 451.8,1297.2 456.2,1298.7C460.6,1300.2 460.9,1298.5 465.0,1298.7C469.1,1298.9 470.6,1297.6 475.0,1299.5C479.4,1301.4 481.7,1305.5 485.0,1307.5C488.3,1309.5 487.5,1307.3 490.0,1308.7C492.5,1310.1 492.3,1312.5 496.2,1313.7C500.1,1314.9 503.6,1314.5 507.5,1314.2C511.4,1313.9 510.7,1312.8 514.0,1312.3C517.3,1311.8 518.9,1313.3 522.7,1312.0C526.6,1310.7 527.9,1308.6 531.5,1306.2C535.1,1303.8 536.0,1302.6 539.0,1301.2C542.0,1299.8 542.7,1298.6 545.2,1300.0C547.7,1301.4 548.0,1303.1 550.2,1307.5C552.4,1311.9 553.6,1314.2 555.2,1320.0C556.9,1325.8 556.5,1329.8 557.7,1333.7C558.9,1337.6 559.1,1337.7 560.7,1337.7C562.4,1337.7 563.4,1336.8 565.2,1333.7C567.0,1330.6 567.5,1329.4 569.0,1323.7C570.5,1318.0 569.8,1311.8 572.0,1308.0C574.2,1304.2 575.3,1306.9 579.0,1306.2C582.7,1305.5 584.6,1305.5 589.0,1305.0C593.4,1304.5 594.9,1304.2 599.0,1303.7C603.1,1303.2 605.0,1302.2 607.7,1302.5C610.5,1302.8 609.6,1304.9 611.5,1305.0C613.4,1305.1 613.2,1303.0 616.5,1303.0C619.8,1303.0 623.2,1304.7 626.5,1305.0C629.8,1305.3 629.0,1303.8 631.5,1304.2C634.0,1304.6 634.4,1306.6 637.7,1307.0C641.0,1307.4 642.4,1305.7 646.5,1306.2C650.6,1306.8 651.5,1308.4 656.5,1309.5C661.5,1310.6 664.0,1311.0 669.0,1311.2C674.0,1311.4 674.6,1310.3 679.0,1310.5C683.4,1310.7 684.6,1311.7 689.0,1312.0C693.4,1312.3 694.0,1312.3 699.0,1312.0C704.0,1311.7 705.5,1311.6 711.5,1310.7C717.5,1309.8 719.4,1308.7 726.5,1308.0C733.6,1307.3 736.3,1307.8 744.0,1307.5C751.7,1307.2 754.9,1307.4 761.5,1306.7C768.1,1306.0 768.0,1305.2 774.0,1304.2C780.0,1303.2 782.4,1302.5 789.0,1302.0C795.6,1301.5 798.5,1301.3 804.0,1302.0C809.5,1302.7 809.0,1303.8 814.0,1305.0C819.0,1306.2 819.9,1306.4 826.5,1307.5C833.1,1308.6 837.4,1309.5 844.0,1310.0C850.6,1310.5 851.0,1310.3 856.5,1310.0C862.0,1309.7 864.0,1309.4 869.0,1308.7C874.0,1308.0 875.1,1308.9 879.0,1307.0C882.9,1305.1 883.5,1303.7 886.5,1300.0C889.5,1296.3 890.2,1295.1 892.7,1290.0C895.2,1284.9 895.2,1280.6 897.7,1277.0C900.2,1273.4 901.0,1274.3 904.0,1273.7C907.0,1273.1 907.9,1273.1 911.5,1274.2C915.1,1275.3 917.2,1275.2 920.2,1278.7C923.2,1282.2 922.7,1285.3 925.2,1290.0C927.7,1294.7 928.7,1296.7 931.5,1300.0C934.3,1303.3 934.4,1303.5 938.0,1305.0C941.6,1306.5 943.3,1307.3 948.0,1307.0C952.7,1306.7 954.8,1306.1 959.2,1303.7C963.6,1301.3 964.4,1301.2 968.0,1296.2C971.6,1291.2 972.8,1289.2 975.5,1281.2C978.2,1273.2 978.3,1271.3 980.5,1260.0C982.7,1248.7 983.5,1238.9 985.5,1230.0C987.5,1221.1 987.8,1218.6 989.7,1219.7C991.6,1220.8 992.4,1226.1 994.2,1235.0C996.0,1243.9 996.4,1250.1 998.0,1260.0C999.6,1269.9 999.5,1272.8 1001.7,1280.0C1003.9,1287.2 1004.4,1287.9 1008.0,1292.5C1011.6,1297.1 1013.0,1298.2 1018.0,1300.7C1023.0,1303.2 1025.5,1303.2 1030.5,1303.7C1035.5,1304.2 1036.7,1302.6 1040.5,1303.0C1044.3,1303.4 1042.0,1304.6 1048.0,1305.5C1054.0,1306.4 1059.8,1306.5 1068.0,1307.0C1076.2,1307.5 1080.0,1308.1 1085.5,1308.0C1091.0,1307.9 1087.0,1306.8 1093.0,1306.7C1099.0,1306.6 1106.1,1307.6 1113.0,1307.5C1119.9,1307.4 1119.8,1308.4 1124.2,1306.2C1128.6,1304.0 1128.9,1301.7 1133.0,1297.5C1137.1,1293.3 1139.4,1288.3 1143.0,1287.2C1146.6,1286.1 1146.5,1289.7 1149.2,1292.5C1152.0,1295.3 1152.2,1297.2 1155.5,1300.0C1158.8,1302.8 1160.4,1303.9 1164.2,1305.0C1168.0,1306.1 1168.3,1304.6 1173.0,1305.0C1177.7,1305.4 1180.0,1305.6 1185.5,1307.0C1191.0,1308.4 1190.8,1310.1 1198.0,1311.2C1205.2,1312.3 1209.2,1312.0 1218.0,1312.0C1226.8,1312.0 1232.5,1311.5 1238.0,1311.2C1243.0,1310.9 1240.8,1310.6 1243.0,1310.7C1245.2,1310.8 1243.0,1311.6 1248.0,1311.7C1253.5,1311.8 1263.6,1311.3 1268.0,1311.2"/>
<path d="M97.5,1467.0C98.0,1466.8 97.8,1467.7 100.0,1466.2C102.2,1464.7 104.5,1464.1 107.5,1460.0C110.5,1455.9 110.7,1450.9 113.7,1447.5C116.7,1444.1 118.2,1444.1 121.2,1444.5C124.2,1444.9 125.0,1448.3 127.5,1449.5C130.0,1450.7 130.3,1451.9 132.5,1450.0C134.7,1448.1 135.3,1444.3 137.5,1441.0C139.7,1437.7 139.8,1440.7 142.5,1435.0C145.2,1429.3 147.2,1426.0 150.0,1415.0C152.8,1404.0 152.8,1398.2 155.0,1385.0C157.2,1371.8 157.8,1366.4 160.0,1355.0C162.2,1343.6 163.1,1340.2 165.0,1333.0C166.9,1325.8 167.3,1322.4 168.7,1322.4C170.1,1322.4 169.6,1323.1 171.2,1333.0C172.8,1342.9 173.8,1351.7 176.0,1367.5C178.2,1383.3 178.8,1390.2 181.0,1405.0C183.2,1419.8 183.8,1424.5 186.0,1435.0C188.2,1445.5 188.8,1447.0 191.0,1452.5C193.2,1458.0 192.9,1457.2 196.0,1460.0C199.1,1462.8 201.4,1463.7 205.0,1465.0C208.6,1466.3 209.5,1466.2 212.5,1465.7C215.5,1465.2 215.7,1463.1 218.7,1462.5C221.7,1461.9 223.3,1463.2 226.0,1463.0C228.7,1462.8 227.9,1460.8 231.0,1461.7C234.1,1462.6 236.4,1465.8 240.0,1467.0C243.6,1468.2 243.1,1467.9 247.5,1467.0C251.9,1466.1 254.5,1464.1 260.0,1463.0C265.5,1461.9 267.0,1462.0 272.5,1462.0C278.0,1462.0 280.3,1463.7 285.0,1463.0C289.7,1462.3 289.8,1462.4 293.7,1458.7C297.6,1455.0 298.9,1449.6 302.5,1446.0C306.1,1442.4 307.0,1442.7 310.0,1442.5C313.0,1442.3 312.7,1446.7 316.0,1445.0C319.3,1443.3 321.7,1437.8 325.0,1435.0C328.3,1432.2 328.2,1432.3 331.0,1432.5C333.8,1432.7 333.3,1433.2 337.5,1436.0C341.7,1438.8 344.5,1441.1 350.0,1445.0C355.5,1448.9 357.6,1449.6 362.5,1453.7C367.4,1457.8 367.0,1459.9 372.5,1463.7C378.0,1467.5 380.9,1468.6 387.5,1471.0C394.1,1473.4 395.9,1473.8 402.5,1474.5C409.1,1475.2 412.0,1474.6 417.5,1474.0C423.0,1473.4 423.4,1473.1 427.5,1471.7C431.6,1470.3 431.6,1468.4 436.0,1467.5C440.4,1466.6 442.2,1467.5 447.5,1467.5C452.8,1467.5 454.5,1467.9 460.0,1467.5C465.5,1467.1 468.1,1465.7 472.5,1465.7C476.9,1465.7 476.1,1465.9 480.0,1467.5C483.9,1469.1 486.1,1471.3 490.0,1473.0C493.9,1474.7 492.2,1474.8 497.5,1475.0C502.8,1475.2 508.7,1474.7 514.0,1474.0C519.3,1473.3 518.2,1472.9 521.5,1472.0C524.8,1471.1 525.7,1471.3 529.0,1470.0C532.3,1468.7 532.6,1466.9 536.5,1466.0C540.4,1465.1 543.2,1464.3 546.5,1465.7C549.8,1467.1 549.6,1468.3 551.5,1472.5C553.4,1476.7 553.6,1479.6 555.0,1485.0C556.4,1490.4 556.3,1494.0 557.7,1497.0C559.1,1500.0 559.9,1499.1 561.5,1498.7C563.1,1498.3 563.1,1499.7 565.0,1495.0C566.9,1490.3 568.0,1483.9 570.0,1477.5C572.0,1471.1 572.0,1469.0 574.0,1466.0C576.0,1463.0 575.7,1464.6 579.0,1463.7C582.3,1462.8 584.0,1462.7 589.0,1462.0C594.0,1461.3 596.0,1460.8 601.5,1460.5C607.0,1460.2 609.0,1460.2 614.0,1460.5C619.0,1460.8 620.7,1462.0 624.0,1462.0C627.3,1462.0 626.2,1460.1 629.0,1460.5C631.8,1460.9 632.6,1463.3 636.5,1464.0C640.4,1464.7 643.2,1463.3 646.5,1463.7C649.8,1464.1 647.6,1465.2 651.5,1466.0C655.4,1466.8 658.5,1467.2 664.0,1467.5C669.5,1467.8 671.0,1467.4 676.5,1467.5C682.0,1467.6 683.5,1468.0 689.0,1468.0C694.5,1468.0 696.0,1467.9 701.5,1467.5C707.0,1467.1 708.0,1466.5 714.0,1466.0C720.0,1465.5 722.4,1465.7 729.0,1465.0C735.6,1464.3 737.4,1463.9 744.0,1463.0C750.6,1462.1 751.9,1461.9 759.0,1461.0C766.1,1460.1 769.9,1459.9 776.5,1458.7C783.1,1457.5 783.0,1456.6 789.0,1455.7C795.0,1454.8 799.0,1454.4 804.0,1454.5C809.0,1454.6 807.6,1454.8 811.5,1456.0C815.4,1457.2 816.5,1458.7 821.5,1460.0C826.5,1461.3 829.3,1460.7 834.0,1462.0C838.7,1463.3 839.4,1465.1 842.7,1466.0C846.0,1466.9 846.0,1466.2 849.0,1466.0C852.0,1465.8 852.1,1465.2 856.5,1465.0C860.9,1464.8 863.5,1465.5 869.0,1465.0C874.5,1464.5 877.1,1463.9 881.5,1462.5C885.9,1461.1 885.7,1461.7 889.0,1458.7C892.3,1455.7 893.0,1451.7 896.5,1448.7C900.0,1445.7 900.6,1445.6 905.0,1445.0C909.4,1444.4 912.3,1444.3 916.5,1446.0C920.7,1447.7 920.1,1449.4 924.0,1452.5C927.9,1455.6 930.9,1458.1 934.0,1460.0C937.1,1461.9 934.4,1461.1 938.0,1461.2C941.6,1461.3 945.0,1461.0 950.5,1460.5C956.0,1460.0 958.6,1460.5 963.0,1458.7C967.4,1456.9 967.2,1457.2 970.5,1452.5C973.8,1447.8 974.7,1445.2 978.0,1437.5C981.3,1429.8 982.8,1423.1 985.5,1417.5C988.2,1411.9 988.6,1412.5 990.5,1412.2C992.4,1411.9 992.3,1411.7 994.2,1416.2C996.1,1420.7 997.0,1425.6 999.2,1432.5C1001.4,1439.4 1001.2,1442.5 1004.2,1447.5C1007.2,1452.5 1008.3,1452.8 1013.0,1455.0C1017.7,1457.2 1018.9,1456.5 1025.5,1457.5C1032.1,1458.5 1036.4,1458.7 1043.0,1459.5C1049.6,1460.3 1049.5,1461.1 1055.5,1461.2C1061.5,1461.3 1063.3,1460.4 1070.5,1460.0C1077.7,1459.6 1080.8,1458.9 1088.0,1459.2C1095.2,1459.5 1095.3,1461.3 1103.0,1461.2C1110.7,1461.1 1116.4,1461.2 1123.0,1458.7C1129.6,1456.2 1129.2,1453.7 1133.0,1450.0C1136.8,1446.3 1137.8,1444.2 1140.5,1442.0C1143.2,1439.8 1143.3,1439.3 1145.5,1440.0C1147.7,1440.7 1147.8,1442.0 1150.5,1445.0C1153.2,1448.0 1154.2,1451.0 1158.0,1453.7C1161.8,1456.5 1162.0,1456.1 1168.0,1457.5C1174.0,1458.9 1177.8,1458.3 1185.5,1460.0C1193.2,1461.7 1194.2,1463.9 1203.0,1465.0C1211.8,1466.1 1215.0,1465.1 1225.5,1465.0C1236.0,1464.9 1241.2,1464.8 1250.5,1464.5C1259.8,1464.2 1264.2,1463.9 1268.0,1463.7"/>
</g>
<g fill="#000">
<rect x="128.00" y="493.0" width="6.0" height="19.8" rx="2.2" ry="3.0"/>
<rect x="128.00" y="529.1" width="6.0" height="19.8" rx="2.2" ry="3.0"/>
<rect x="128.00" y="565.3" width="6.0" height="19.8" rx="2.2" ry="3.0"/>
<rect x="128.00" y="601.4" width="6.0" height="19.8" rx="2.2" ry="3.0"/>
<rect x="128.00" y="637.5" width="6.0" height="19.8" rx="2.2" ry="3.0"/>
<rect x="128.00" y="673.6" width="6.0" height="19.8" rx="2.2" ry="3.0"/>
<rect x="128.00" y="709.8" width="6.0" height="19.8" rx="2.2" ry="3.0"/>
<rect x="128.00" y="745.9" width="6.0" height="19.8" rx="2.2" ry="3.0"/>
<rect x="128.00" y="782.0" width="6.0" height="19.8" rx="2.2" ry="3.0"/>
<rect x="128.00" y="818.2" width="6.0" height="19.8" rx="2.2" ry="3.0"/>
<rect x="128.00" y="854.3" width="6.0" height="19.8" rx="2.2" ry="3.0"/>
<rect x="128.00" y="890.4" width="6.0" height="19.8" rx="2.2" ry="3.0"/>
<rect x="128.00" y="926.6" width="6.0" height="19.8" rx="2.2" ry="3.0"/>
<rect x="128.00" y="962.7" width="6.0" height="19.8" rx="2.2" ry="3.0"/>
<rect x="128.00" y="998.8" width="6.0" height="19.8" rx="2.2" ry="3.0"/>
<rect x="128.00" y="1035.0" width="6.0" height="19.8" rx="2.2" ry="3.0"/>
<rect x="128.00" y="1071.1" width="6.0" height="19.8" rx="2.2" ry="3.0"/>
<rect x="128.00" y="1107.2" width="6.0" height="19.8" rx="2.2" ry="3.0"/>
<rect x="128.00" y="1143.3" width="6.0" height="19.8" rx="2.2" ry="3.0"/>
<rect x="128.00" y="1179.5" width="6.0" height="19.8" rx="2.2" ry="3.0"/>
<rect x="128.00" y="1215.6" width="6.0" height="19.8" rx="2.2" ry="3.0"/>
<rect x="128.00" y="1251.7" width="6.0" height="19.8" rx="2.2" ry="3.0"/>
<rect x="128.00" y="1287.9" width="6.0" height="19.8" rx="2.2" ry="3.0"/>
<rect x="128.00" y="1324.0" width="6.0" height="19.8" rx="2.2" ry="3.0"/>
<rect x="128.00" y="1360.1" width="6.0" height="19.8" rx="2.2" ry="3.0"/>
<rect x="128.00" y="1396.3" width="6.0" height="19.8" rx="2.2" ry="3.0"/>
<rect x="128.00" y="1432.4" width="6.0" height="19.8" rx="2.2" ry="3.0"/>
<rect x="128.00" y="1468.5" width="6.0" height="8.2" rx="2.2" ry="3.0"/>
<rect x="173.85" y="123.0" width="5.3" height="20.0" rx="2.2" ry="3.0"/>
<rect x="173.85" y="159.1" width="5.3" height="20.0" rx="2.2" ry="3.0"/>
<rect x="173.85" y="195.3" width="5.3" height="20.0" rx="2.2" ry="3.0"/>
<rect x="173.85" y="231.4" width="5.3" height="20.0" rx="2.2" ry="3.0"/>
<rect x="173.85" y="267.5" width="5.3" height="20.0" rx="2.2" ry="3.0"/>
<rect x="173.85" y="303.6" width="5.3" height="20.0" rx="2.2" ry="3.0"/>
<rect x="173.85" y="339.8" width="5.3" height="20.0" rx="2.2" ry="3.0"/>
<rect x="173.85" y="375.9" width="5.3" height="20.0" rx="2.2" ry="3.0"/>
<rect x="173.85" y="412.0" width="5.3" height="20.0" rx="2.2" ry="3.0"/>
<rect x="173.85" y="448.2" width="5.3" height="20.0" rx="2.2" ry="3.0"/>
<rect x="173.85" y="484.3" width="5.3" height="20.0" rx="2.2" ry="3.0"/>
<rect x="173.85" y="520.4" width="5.3" height="20.0" rx="2.2" ry="3.0"/>
<rect x="173.85" y="556.6" width="5.3" height="20.0" rx="2.2" ry="3.0"/>
<rect x="173.85" y="592.7" width="5.3" height="20.0" rx="2.2" ry="3.0"/>
<rect x="173.85" y="628.8" width="5.3" height="20.0" rx="2.2" ry="3.0"/>
<rect x="173.85" y="664.9" width="5.3" height="20.0" rx="2.2" ry="3.0"/>
<rect x="173.85" y="701.1" width="5.3" height="20.0" rx="2.2" ry="3.0"/>
<rect x="173.85" y="737.2" width="5.3" height="20.0" rx="2.2" ry="3.0"/>
<rect x="173.85" y="773.3" width="5.3" height="20.0" rx="2.2" ry="3.0"/>
<rect x="173.85" y="809.5" width="5.3" height="20.0" rx="2.2" ry="3.0"/>
<rect x="173.85" y="845.6" width="5.3" height="20.0" rx="2.2" ry="3.0"/>
<rect x="173.85" y="881.7" width="5.3" height="20.0" rx="2.2" ry="3.0"/>
<rect x="173.85" y="917.9" width="5.3" height="20.0" rx="2.2" ry="3.0"/>
<rect x="173.85" y="954.0" width="5.3" height="20.0" rx="2.2" ry="3.0"/>
<rect x="173.85" y="990.1" width="5.3" height="20.0" rx="2.2" ry="3.0"/>
<rect x="173.85" y="1026.2" width="5.3" height="20.0" rx="2.2" ry="3.0"/>
<rect x="173.85" y="1062.4" width="5.3" height="20.0" rx="2.2" ry="3.0"/>
<rect x="173.85" y="1098.5" width="5.3" height="20.0" rx="2.2" ry="3.0"/>
<rect x="173.85" y="1134.6" width="5.3" height="20.0" rx="2.2" ry="3.0"/>
<rect x="173.85" y="1170.8" width="5.3" height="20.0" rx="2.2" ry="3.0"/>
<rect x="173.85" y="1206.9" width="5.3" height="20.0" rx="2.2" ry="3.0"/>
<rect x="173.85" y="1243.0" width="5.3" height="20.0" rx="2.2" ry="3.0"/>
<rect x="173.85" y="1279.2" width="5.3" height="20.0" rx="2.2" ry="3.0"/>
<rect x="173.85" y="1315.3" width="5.3" height="20.0" rx="2.2" ry="3.0"/>
<rect x="173.85" y="1351.4" width="5.3" height="20.0" rx="2.2" ry="3.0"/>
<rect x="173.85" y="1387.6" width="5.3" height="20.0" rx="2.2" ry="3.0"/>
<rect x="173.85" y="1423.7" width="5.3" height="20.0" rx="2.2" ry="3.0"/>
<rect x="173.85" y="1459.8" width="5.3" height="20.0" rx="2.2" ry="3.0"/>
<rect x="173.85" y="1495.9" width="5.3" height="7.1" rx="2.2" ry="3.5"/>
<rect x="337.05" y="458.8" width="6.1" height="19.8" rx="2.2" ry="3.0"/>
<rect x="337.05" y="494.9" width="6.1" height="19.8" rx="2.2" ry="3.0"/>
<rect x="337.05" y="531.1" width="6.1" height="19.8" rx="2.2" ry="3.0"/>
<rect x="337.05" y="567.2" width="6.1" height="19.8" rx="2.2" ry="3.0"/>
<rect x="337.05" y="603.3" width="6.1" height="19.8" rx="2.2" ry="3.0"/>
<rect x="337.05" y="639.5" width="6.1" height="19.8" rx="2.2" ry="3.0"/>
<rect x="337.05" y="675.6" width="6.1" height="19.8" rx="2.2" ry="3.0"/>
<rect x="337.05" y="711.7" width="6.1" height="19.8" rx="2.2" ry="3.0"/>
<rect x="337.05" y="747.8" width="6.1" height="19.8" rx="2.2" ry="3.0"/>
<rect x="337.05" y="784.0" width="6.1" height="19.8" rx="2.2" ry="3.0"/>
<rect x="337.05" y="820.1" width="6.1" height="19.8" rx="2.2" ry="3.0"/>
<rect x="337.05" y="856.2" width="6.1" height="19.8" rx="2.2" ry="3.0"/>
<rect x="337.05" y="892.4" width="6.1" height="19.8" rx="2.2" ry="3.0"/>
<rect x="337.05" y="928.5" width="6.1" height="19.8" rx="2.2" ry="3.0"/>
<rect x="337.05" y="964.6" width="6.1" height="19.8" rx="2.2" ry="3.0"/>
<rect x="337.05" y="1000.8" width="6.1" height="19.8" rx="2.2" ry="3.0"/>
<rect x="337.05" y="1036.9" width="6.1" height="19.8" rx="2.2" ry="3.0"/>
<rect x="337.05" y="1073.0" width="6.1" height="19.8" rx="2.2" ry="3.0"/>
<rect x="337.05" y="1109.1" width="6.1" height="19.8" rx="2.2" ry="3.0"/>
<rect x="337.05" y="1145.3" width="6.1" height="19.8" rx="2.2" ry="3.0"/>
<rect x="337.05" y="1181.4" width="6.1" height="19.8" rx="2.2" ry="3.0"/>
<rect x="337.05" y="1217.5" width="6.1" height="19.8" rx="2.2" ry="3.0"/>
<rect x="337.05" y="1253.7" width="6.1" height="19.8" rx="2.2" ry="3.0"/>
<rect x="337.05" y="1289.8" width="6.1" height="19.8" rx="2.2" ry="3.0"/>
<rect x="337.05" y="1325.9" width="6.1" height="19.8" rx="2.2" ry="3.0"/>
<rect x="337.05" y="1362.1" width="6.1" height="19.8" rx="2.2" ry="3.0"/>
<rect x="337.05" y="1398.2" width="6.1" height="19.8" rx="2.2" ry="3.0"/>
<rect x="337.05" y="1434.3" width="6.1" height="19.8" rx="2.2" ry="3.0"/>
<rect x="337.05" y="1470.4" width="6.1" height="19.8" rx="2.2" ry="3.0"/>
<rect x="1148.15" y="370.5" width="5.8" height="19.8" rx="2.2" ry="3.0"/>
<rect x="1148.15" y="406.6" width="5.8" height="19.8" rx="2.2" ry="3.0"/>
<rect x="1148.15" y="442.8" width="5.8" height="19.8" rx="2.2" ry="3.0"/>
<rect x="1148.15" y="478.9" width="5.8" height="19.8" rx="2.2" ry="3.0"/>
<rect x="1148.15" y="515.0" width="5.8" height="19.8" rx="2.2" ry="3.0"/>
<rect x="1148.15" y="551.1" width="5.8" height="19.8" rx="2.2" ry="3.0"/>
<rect x="1148.15" y="587.3" width="5.8" height="19.8" rx="2.2" ry="3.0"/>
<rect x="1148.15" y="623.4" width="5.8" height="19.8" rx="2.2" ry="3.0"/>
<rect x="1148.15" y="659.5" width="5.8" height="19.8" rx="2.2" ry="3.0"/>
<rect x="1148.15" y="695.7" width="5.8" height="19.8" rx="2.2" ry="3.0"/>
<rect x="1148.15" y="731.8" width="5.8" height="19.8" rx="2.2" ry="3.0"/>
<rect x="1148.15" y="767.9" width="5.8" height="19.8" rx="2.2" ry="3.0"/>
<rect x="1148.15" y="804.1" width="5.8" height="19.8" rx="2.2" ry="3.0"/>
<rect x="1148.15" y="840.2" width="5.8" height="19.8" rx="2.2" ry="3.0"/>
<rect x="1148.15" y="876.3" width="5.8" height="19.8" rx="2.2" ry="3.0"/>
<rect x="1148.15" y="912.4" width="5.8" height="19.8" rx="2.2" ry="3.0"/>
<rect x="1148.15" y="948.6" width="5.8" height="19.8" rx="2.2" ry="3.0"/>
<rect x="1148.15" y="984.7" width="5.8" height="19.8" rx="2.2" ry="3.0"/>
<rect x="1148.15" y="1020.8" width="5.8" height="19.8" rx="2.2" ry="3.0"/>
<rect x="1148.15" y="1057.0" width="5.8" height="19.8" rx="2.2" ry="3.0"/>
<rect x="1148.15" y="1093.1" width="5.8" height="19.8" rx="2.2" ry="3.0"/>
<rect x="1148.15" y="1129.2" width="5.8" height="19.8" rx="2.2" ry="3.0"/>
<rect x="1148.15" y="1165.4" width="5.8" height="19.8" rx="2.2" ry="3.0"/>
<rect x="1148.15" y="1201.5" width="5.8" height="19.8" rx="2.2" ry="3.0"/>
<rect x="1148.15" y="1237.6" width="5.8" height="19.8" rx="2.2" ry="3.0"/>
<rect x="1148.15" y="1273.8" width="5.8" height="19.8" rx="2.2" ry="3.0"/>
<rect x="1148.15" y="1309.9" width="5.8" height="19.8" rx="2.2" ry="3.0"/>
<rect x="1148.15" y="1346.0" width="5.8" height="19.8" rx="2.2" ry="3.0"/>
<rect x="1148.15" y="1382.1" width="5.8" height="19.8" rx="2.2" ry="3.0"/>
<rect x="1148.15" y="1418.3" width="5.8" height="19.8" rx="2.2" ry="3.0"/>
<rect x="1148.15" y="1454.4" width="5.8" height="19.8" rx="2.2" ry="3.0"/>
<rect x="1148.15" y="1490.5" width="5.8" height="15.3" rx="2.2" ry="3.0"/>
</g>
<g fill="none" stroke="#000" stroke-width="4.3" stroke-linecap="round">
<path d="M544.3,407 L550.8,516"/>
<path d="M283.7,1011.2 L308.7,1057.5"/>
</g>
<g fill="#000">
<rect x="95.2" y="11.8" width="4.6" height="1517.9"/>
<rect x="95.2" y="11.8" width="1516.7" height="5.05"/>
<rect x="1608.0" y="11.8" width="3.9" height="1517.9"/>
<rect x="95.2" y="1525.2" width="1516.7" height="4.5"/>
</g>
<g stroke="#000" stroke-width="4.0">
<path d="M122.2,1527 V1553.7"/>
<path d="M236.7,1527 V1578.8"/>
<path d="M351.1,1527 V1553.7"/>
<path d="M465.6,1527 V1578.8"/>
<path d="M580.0,1527 V1553.7"/>
<path d="M694.5,1527 V1578.8"/>
<path d="M808.9,1527 V1553.7"/>
<path d="M923.4,1527 V1578.8"/>
<path d="M1037.8,1527 V1553.7"/>
<path d="M1152.2,1527 V1578.8"/>
<path d="M1266.7,1527 V1553.7"/>
<path d="M1381.2,1527 V1578.8"/>
<path d="M1495.6,1527 V1553.7"/>
<path d="M1610.0,1527 V1578.8"/>
</g>
<g font-family="'Liberation Serif', 'Times New Roman', serif" fill="#000">
<text x="236.7" y="1669.9" font-size="78" text-anchor="middle">200</text>
<text x="466.4" y="1669.9" font-size="78" text-anchor="middle">400</text>
<text x="695.0" y="1669.9" font-size="78" text-anchor="middle">600</text>
<text x="925.1" y="1669.9" font-size="78" text-anchor="middle">800</text>
<text x="1154.0" y="1669.9" font-size="78" text-anchor="middle">1000</text>
<text x="1383.4" y="1669.9" font-size="78" text-anchor="middle">1200</text>
<text x="1611.5" y="1669.9" font-size="78" text-anchor="middle">1400</text>
<text x="539" y="1763.4" font-size="84">Raman shift (cm<tspan font-size="50" dx="0" dy="-24.8">-1</tspan><tspan dx="0" dy="24.8">)</tspan></text>
<text transform="translate(67.6,1018) rotate(-90)" font-size="84">Intensity (a.u.)</text>
<text x="179.4" y="103" font-size="56.5" text-anchor="middle">146</text>
<text x="129.7" y="460" font-size="35" text-anchor="middle">105</text>
<text x="246" y="538.2" font-size="56" text-anchor="middle">201</text>
<text x="330.2" y="435.3" font-size="56.5" text-anchor="middle">287</text>
<text x="478.5" y="481.2" font-size="56" text-anchor="middle">410</text>
<text x="552" y="381" font-size="56" text-anchor="middle">476</text>
<text x="629.6" y="453.7" font-size="56" text-anchor="middle">527</text>
<text x="811.2" y="437.5" font-size="56" text-anchor="middle">705</text>
<text x="1148" y="346.2" font-size="56" text-anchor="middle">998</text>
<text x="285.3" y="1001.2" font-size="56" text-anchor="middle">264</text>
<text x="905.3" y="996.2" font-size="57" text-anchor="middle">789</text>
<text x="1001.7" y="985" font-size="56" text-anchor="middle">857</text>
<text transform="translate(1293.2,520.7) scale(0.9775,1)" font-size="64.5">V<tspan font-size="38" dy="14.2">2</tspan><tspan dy="-14.2">O</tspan><tspan font-size="38" dy="14.2">5</tspan></text>
<text transform="translate(1278.2,875.8) scale(0.967,1)" font-size="65.5">Nd/V=1:4</text>
<text transform="translate(1279.2,1101.2) scale(0.968,1)" font-size="65.5">Nd/V=1:3</text>
<text transform="translate(1278.5,1332.2) scale(0.972,1)" font-size="65.5">Nd/V=1:2</text>
<text transform="translate(1288.3,1475.3) scale(0.96,1)" font-size="65.5">Nd/V=1:1</text>
</g>
</svg>
</body></html>
